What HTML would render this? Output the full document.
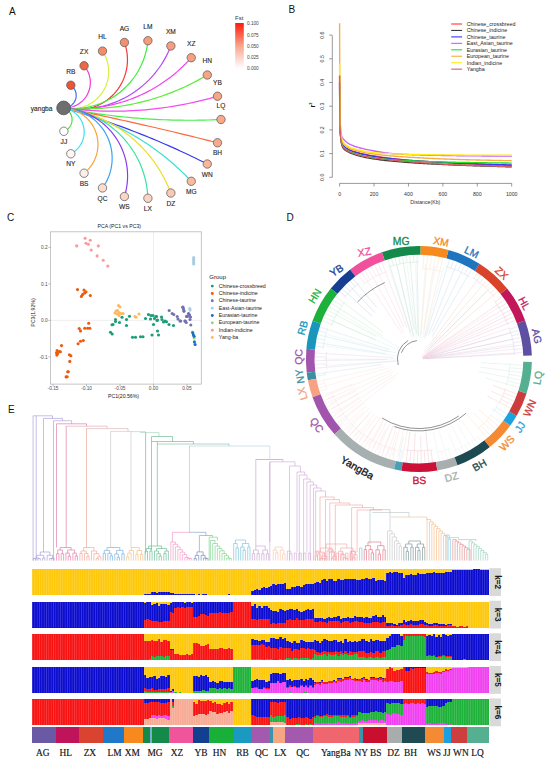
<!DOCTYPE html>
<html><head><meta charset="utf-8"><style>
*{margin:0;padding:0}
html,body{width:550px;height:763px;background:#fff;overflow:hidden}
svg{display:block}
text{font-family:"Liberation Sans",sans-serif;fill:#222}
.pl{font-size:10px;fill:#111}
.al{font-size:6.6px}
.al text{fill:#262626;stroke:#262626;stroke-width:0.12px}
.fsth{font-size:6px;fill:#333}
.fstl text{font-size:4.7px;fill:#444}
.bt text{font-size:5.2px;fill:#333}
.r2{font-size:7px;font-weight:bold;fill:#111}
.bl text{font-size:5.3px;fill:#222}
.ct{font-size:5.2px;fill:#222}
.ctk text{font-size:4.8px;fill:#4d4d4d}
.cax{font-size:5.2px;fill:#222}
.cgh{font-size:6px;fill:#222}
.cgl{font-size:5.25px;fill:#222}
.dl text{font-size:10.4px;stroke-width:0.3px}
.ks{font-size:8.2px;font-weight:bold;fill:#1a1a1a}
.gl text{font-family:"Liberation Serif",serif;font-size:9.4px;fill:#111;stroke:#111;stroke-width:0.15px}
</style></head><body>
<svg width="550" height="763" viewBox="0 0 550 763">
<text x="9" y="15.3" class="pl">A</text>
<g fill="none" stroke-width="1.2"><path d="M63.6 107.9 L64.48 107.88 L65.36 107.8 L66.23 107.65 L67.08 107.45 L67.92 107.18 L68.74 106.85 L69.53 106.47 L70.3 106.04 L71.03 105.55 L71.72 105.01 L72.38 104.42 L72.99 103.78 L73.56 103.11 L74.07 102.4 L74.54 101.65 L74.95 100.87 L75.3 100.06 L75.6 99.23 L75.84 98.39 L76.01 97.52 L76.13 96.65 L76.18 95.77 L76.17 94.89 L76.1 94.01 L75.97 93.14 L75.78 92.28 L75.52 91.44 L75.21 90.62 L74.84 89.82 L74.41 89.05 L73.93 88.31 L73.4 87.61 L72.82 86.95 L72.2 86.33 L71.53 85.75 L70.82 85.22" stroke="#3d6cf2"/><path d="M63.6 107.9 L65.25 107.93 L66.9 107.85 L68.55 107.67 L70.17 107.38 L71.78 106.99 L73.36 106.49 L74.9 105.89 L76.39 105.19 L77.84 104.4 L79.24 103.51 L80.57 102.54 L81.84 101.48 L83.04 100.34 L84.16 99.12 L85.2 97.84 L86.15 96.49 L87.02 95.08 L87.79 93.61 L88.46 92.1 L89.04 90.56 L89.51 88.97 L89.88 87.36 L90.14 85.73 L90.3 84.08 L90.35 82.43 L90.29 80.78 L90.13 79.13 L89.86 77.5 L89.48 75.89 L89 74.31 L88.42 72.76 L87.74 71.26 L86.96 69.8 L86.09 68.39 L85.13 67.05 L84.09 65.77" stroke="#f23cd0"/><path d="M63.6 107.9 L66.01 108.35 L68.44 108.63 L70.88 108.76 L73.33 108.72 L75.77 108.53 L78.19 108.17 L80.58 107.66 L82.94 106.98 L85.24 106.16 L87.49 105.18 L89.66 104.06 L91.76 102.8 L93.77 101.4 L95.68 99.87 L97.49 98.22 L99.19 96.46 L100.76 94.58 L102.21 92.61 L103.53 90.55 L104.7 88.4 L105.74 86.18 L106.62 83.9 L107.35 81.56 L107.93 79.18 L108.35 76.77 L108.61 74.34 L108.7 71.89 L108.64 69.44 L108.41 67.01 L108.03 64.59 L107.49 62.2 L106.79 59.86 L105.93 57.56 L104.93 55.33 L103.79 53.17 L102.5 51.08" stroke="#d8f03a"/><path d="M63.6 107.9 L66.57 108.65 L69.58 109.22 L72.61 109.6 L75.67 109.79 L78.73 109.8 L81.79 109.62 L84.83 109.26 L87.84 108.71 L90.81 107.98 L93.73 107.07 L96.6 105.98 L99.38 104.71 L102.09 103.29 L104.71 101.69 L107.22 99.94 L109.62 98.05 L111.9 96 L114.05 93.83 L116.07 91.52 L117.94 89.1 L119.66 86.56 L121.22 83.93 L122.62 81.21 L123.85 78.4 L124.9 75.53 L125.78 72.6 L126.48 69.61 L126.99 66.6 L127.32 63.55 L127.46 60.49 L127.42 57.43 L127.19 54.38 L126.77 51.35 L126.17 48.35 L125.38 45.39 L124.42 42.48" stroke="#f23a3a"/><path d="M63.6 107.9 L66.92 108.26 L70.26 108.47 L73.6 108.53 L76.94 108.44 L80.27 108.21 L83.59 107.82 L86.89 107.29 L90.16 106.61 L93.4 105.79 L96.6 104.82 L99.75 103.71 L102.85 102.46 L105.89 101.08 L108.87 99.56 L111.77 97.91 L114.6 96.13 L117.35 94.23 L120.01 92.2 L122.58 90.06 L125.04 87.81 L127.41 85.45 L129.67 82.99 L131.81 80.42 L133.84 77.77 L135.75 75.03 L137.54 72.2 L139.19 69.3 L140.72 66.33 L142.11 63.29 L143.37 60.19 L144.48 57.04 L145.46 53.84 L146.29 50.61 L146.97 47.34 L147.51 44.04 L147.9 40.72" stroke="#3ced3c"/><path d="M63.6 107.9 L67.29 108.41 L70.99 108.78 L74.7 109.02 L78.42 109.11 L82.14 109.06 L85.86 108.87 L89.57 108.54 L93.26 108.07 L96.93 107.46 L100.57 106.71 L104.19 105.83 L107.77 104.81 L111.3 103.65 L114.79 102.36 L118.23 100.95 L121.62 99.4 L124.94 97.72 L128.2 95.92 L131.38 94 L134.5 91.96 L137.53 89.8 L140.48 87.53 L143.34 85.15 L146.11 82.67 L148.78 80.08 L151.35 77.39 L153.82 74.61 L156.18 71.73 L158.44 68.77 L160.57 65.72 L162.6 62.6 L164.5 59.4 L166.28 56.13 L167.93 52.8 L169.46 49.41 L170.86 45.96" stroke="#b04cf2"/><path d="M63.6 107.9 L67.54 108.23 L71.49 108.46 L75.44 108.58 L79.4 108.6 L83.35 108.52 L87.3 108.33 L91.24 108.04 L95.18 107.65 L99.1 107.15 L103.01 106.56 L106.9 105.86 L110.78 105.05 L114.63 104.15 L118.45 103.15 L122.25 102.04 L126.02 100.84 L129.75 99.54 L133.45 98.14 L137.11 96.65 L140.73 95.06 L144.31 93.37 L147.84 91.6 L151.33 89.73 L154.76 87.77 L158.15 85.72 L161.47 83.58 L164.74 81.36 L167.95 79.05 L171.1 76.66 L174.19 74.19 L177.21 71.63 L180.16 69 L183.05 66.3 L185.86 63.51 L188.59 60.66 L191.26 57.73" stroke="#f244f0"/><path d="M63.6 107.9 L67.75 108.23 L71.9 108.5 L76.06 108.68 L80.22 108.8 L84.38 108.84 L88.55 108.82 L92.71 108.71 L96.87 108.54 L101.02 108.29 L105.17 107.97 L109.31 107.58 L113.45 107.12 L117.58 106.58 L121.7 105.97 L125.8 105.29 L129.9 104.54 L133.98 103.72 L138.04 102.83 L142.09 101.86 L146.12 100.83 L150.14 99.72 L154.13 98.55 L158.1 97.3 L162.05 95.99 L165.98 94.61 L169.88 93.15 L173.75 91.64 L177.6 90.05 L181.42 88.4 L185.21 86.68 L188.97 84.89 L192.7 83.04 L196.39 81.13 L200.06 79.15 L203.68 77.1 L207.27 75" stroke="#5ced3a"/><path d="M63.6 107.9 L67.88 108.45 L72.17 108.95 L76.47 109.4 L80.77 109.8 L85.07 110.15 L89.38 110.45 L93.69 110.7 L98 110.9 L102.32 111.05 L106.64 111.15 L110.96 111.2 L115.27 111.2 L119.59 111.15 L123.91 111.05 L128.23 110.9 L132.54 110.7 L136.85 110.45 L141.16 110.14 L145.46 109.79 L149.76 109.39 L154.06 108.94 L158.35 108.44 L162.63 107.88 L166.91 107.28 L171.18 106.63 L175.44 105.93 L179.69 105.18 L183.93 104.38 L188.17 103.53 L192.39 102.63 L196.6 101.68 L200.81 100.69 L205 99.64 L209.17 98.55 L213.34 97.41 L217.49 96.21" stroke="#f24cf0"/><path d="M63.6 107.9 L67.91 108.74 L72.23 109.55 L76.56 110.33 L80.89 111.08 L85.22 111.81 L89.56 112.5 L93.91 113.16 L98.26 113.8 L102.61 114.4 L106.97 114.98 L111.33 115.52 L115.69 116.04 L120.06 116.53 L124.43 116.98 L128.81 117.41 L133.18 117.81 L137.56 118.18 L141.95 118.51 L146.33 118.82 L150.72 119.1 L155.1 119.35 L159.49 119.57 L163.88 119.76 L168.28 119.92 L172.67 120.05 L177.06 120.14 L181.46 120.21 L185.85 120.25 L190.25 120.26 L194.64 120.24 L199.04 120.2 L203.43 120.12 L207.82 120.01 L212.22 119.87 L216.61 119.7 L221 119.5" stroke="#4cee4c"/><path d="M63.6 107.9 L67.9 108.76 L72.2 109.63 L76.49 110.5 L80.79 111.38 L85.08 112.26 L89.37 113.15 L93.66 114.05 L97.95 114.96 L102.24 115.87 L106.53 116.78 L110.81 117.7 L115.1 118.63 L119.38 119.57 L123.66 120.51 L127.94 121.46 L132.22 122.41 L136.5 123.37 L140.77 124.34 L145.05 125.31 L149.32 126.29 L153.59 127.27 L157.86 128.26 L162.13 129.26 L166.4 130.26 L170.66 131.27 L174.93 132.29 L179.19 133.31 L183.45 134.34 L187.71 135.37 L191.97 136.41 L196.23 137.46 L200.48 138.51 L204.74 139.57 L208.99 140.64 L213.24 141.71 L217.49 142.79" stroke="#fa6a3a"/><path d="M63.6 107.9 L67.73 109.08 L71.84 110.29 L75.96 111.51 L80.06 112.76 L84.16 114.03 L88.25 115.32 L92.34 116.63 L96.42 117.97 L100.49 119.32 L104.55 120.7 L108.61 122.1 L112.66 123.52 L116.7 124.96 L120.73 126.43 L124.76 127.91 L128.77 129.42 L132.78 130.95 L136.78 132.5 L140.78 134.07 L144.76 135.66 L148.74 137.28 L152.7 138.91 L156.66 140.57 L160.61 142.25 L164.55 143.95 L168.48 145.67 L172.41 147.41 L176.32 149.17 L180.22 150.95 L184.12 152.75 L188 154.58 L191.88 156.42 L195.74 158.28 L199.59 160.17 L203.44 162.08 L207.27 164" stroke="#3a3af2"/><path d="M63.6 107.9 L67.64 108.86 L71.66 109.88 L75.66 110.98 L79.65 112.13 L83.62 113.36 L87.56 114.64 L91.49 116 L95.39 117.41 L99.26 118.9 L103.12 120.44 L106.94 122.05 L110.74 123.72 L114.51 125.46 L118.25 127.25 L121.97 129.11 L125.65 131.03 L129.29 133.01 L132.91 135.04 L136.49 137.14 L140.04 139.3 L143.55 141.51 L147.02 143.78 L150.46 146.11 L153.85 148.5 L157.21 150.94 L160.53 153.44 L163.8 155.99 L167.03 158.59 L170.22 161.25 L173.36 163.96 L176.46 166.72 L179.52 169.53 L182.52 172.39 L185.48 175.3 L188.39 178.26 L191.26 181.27" stroke="#3ae0d4"/><path d="M63.6 107.9 L67.55 108.48 L71.49 109.17 L75.4 109.99 L79.29 110.92 L83.14 111.96 L86.97 113.13 L90.75 114.4 L94.5 115.79 L98.2 117.3 L101.86 118.91 L105.46 120.63 L109.02 122.46 L112.51 124.39 L115.95 126.43 L119.32 128.58 L122.63 130.82 L125.87 133.16 L129.04 135.6 L132.13 138.13 L135.14 140.75 L138.08 143.46 L140.93 146.26 L143.7 149.15 L146.37 152.11 L148.96 155.16 L151.46 158.28 L153.86 161.47 L156.16 164.74 L158.36 168.07 L160.47 171.47 L162.47 174.93 L164.36 178.45 L166.15 182.02 L167.83 185.64 L169.4 189.32 L170.86 193.04" stroke="#f0dc2c"/><path d="M63.6 107.9 L67.32 108.36 L71.01 108.98 L74.68 109.74 L78.31 110.64 L81.9 111.69 L85.46 112.88 L88.96 114.21 L92.4 115.67 L95.78 117.28 L99.1 119.01 L102.35 120.88 L105.52 122.87 L108.6 124.99 L111.6 127.23 L114.51 129.59 L117.33 132.06 L120.04 134.64 L122.65 137.33 L125.15 140.12 L127.53 143 L129.8 145.98 L131.95 149.05 L133.98 152.2 L135.88 155.42 L137.65 158.72 L139.28 162.09 L140.79 165.52 L142.15 169.01 L143.37 172.55 L144.46 176.13 L145.4 179.76 L146.19 183.41 L146.84 187.1 L147.34 190.81 L147.7 194.54 L147.9 198.28" stroke="#3ae4a4"/><path d="M63.6 107.9 L67.03 108.2 L70.43 108.67 L73.81 109.31 L77.15 110.12 L80.45 111.1 L83.69 112.24 L86.87 113.55 L89.98 115.01 L93.01 116.63 L95.96 118.4 L98.82 120.32 L101.57 122.38 L104.22 124.57 L106.75 126.9 L109.16 129.35 L111.45 131.91 L113.6 134.59 L115.62 137.38 L117.49 140.26 L119.22 143.23 L120.79 146.29 L122.21 149.42 L123.47 152.62 L124.56 155.88 L125.49 159.19 L126.26 162.55 L126.85 165.93 L127.27 169.35 L127.51 172.77 L127.59 176.21 L127.49 179.65 L127.22 183.08 L126.77 186.49 L126.16 189.87 L125.37 193.22 L124.42 196.52" stroke="#8c3af2"/><path d="M63.6 107.9 L66.62 108.1 L69.63 108.48 L72.6 109.04 L75.54 109.78 L78.43 110.7 L81.25 111.78 L84.01 113.04 L86.69 114.45 L89.27 116.03 L91.76 117.76 L94.14 119.63 L96.4 121.65 L98.53 123.79 L100.54 126.06 L102.4 128.45 L104.12 130.95 L105.68 133.54 L107.09 136.22 L108.33 138.98 L109.4 141.82 L110.3 144.71 L111.03 147.65 L111.58 150.62 L111.95 153.63 L112.13 156.65 L112.14 159.68 L111.96 162.7 L111.6 165.71 L111.06 168.69 L110.35 171.63 L109.46 174.53 L108.39 177.36 L107.16 180.13 L105.76 182.82 L104.21 185.42 L102.5 187.92" stroke="#3aa4f2"/><path d="M63.6 107.9 L66.04 108.14 L68.46 108.53 L70.85 109.09 L73.2 109.81 L75.49 110.68 L77.72 111.71 L79.87 112.88 L81.95 114.19 L83.93 115.64 L85.8 117.21 L87.57 118.91 L89.23 120.73 L90.75 122.65 L92.15 124.66 L93.4 126.77 L94.52 128.96 L95.48 131.21 L96.29 133.53 L96.95 135.89 L97.45 138.29 L97.78 140.72 L97.95 143.17 L97.96 145.62 L97.8 148.07 L97.48 150.5 L97 152.91 L96.36 155.27 L95.56 157.59 L94.61 159.85 L93.5 162.05 L92.26 164.16 L90.88 166.18 L89.36 168.11 L87.72 169.94 L85.96 171.65 L84.09 173.23" stroke="#f8a43a"/><path d="M63.6 107.9 L65.27 108.23 L66.92 108.67 L68.53 109.23 L70.1 109.89 L71.61 110.67 L73.07 111.55 L74.47 112.53 L75.79 113.6 L77.04 114.76 L78.2 116.01 L79.27 117.34 L80.25 118.73 L81.12 120.19 L81.9 121.71 L82.56 123.28 L83.11 124.89 L83.55 126.54 L83.88 128.21 L84.08 129.91 L84.17 131.61 L84.14 133.31 L83.99 135.01 L83.72 136.69 L83.34 138.35 L82.84 139.98 L82.22 141.57 L81.5 143.12 L80.67 144.6 L79.75 146.03 L78.72 147.39 L77.6 148.68 L76.39 149.88 L75.11 151 L73.74 152.02 L72.31 152.95 L70.82 153.78" stroke="#3ae0f0"/><path d="M63.6 107.9 L64.4 108.19 L65.17 108.54 L65.92 108.95 L66.64 109.4 L67.33 109.9 L67.98 110.45 L68.6 111.04 L69.17 111.67 L69.69 112.34 L70.17 113.04 L70.6 113.77 L70.98 114.54 L71.3 115.32 L71.57 116.13 L71.78 116.95 L71.94 117.79 L72.04 118.64 L72.08 119.49 L72.06 120.34 L71.98 121.18 L71.84 122.02 L71.65 122.85 L71.4 123.67 L71.1 124.46 L70.74 125.23 L70.33 125.98 L69.87 126.69 L69.36 127.37 L68.8 128.02 L68.2 128.62 L67.56 129.18 L66.89 129.7 L66.18 130.17 L65.44 130.59 L64.67 130.96 L63.88 131.27" stroke="#4ce03a"/></g>
<g><circle cx="63.6" cy="107.9" r="6.9" fill="#6e6e6e" stroke="#4a4a4a" stroke-width="0.7"/><circle cx="70.82" cy="85.22" r="4.2" fill="#ec5433" stroke="#555" stroke-width="0.7"/><circle cx="84.09" cy="65.77" r="4.2" fill="#ee6646" stroke="#555" stroke-width="0.7"/><circle cx="102.5" cy="51.08" r="4.2" fill="#f48c6a" stroke="#555" stroke-width="0.7"/><circle cx="124.42" cy="42.48" r="4.2" fill="#f48e6c" stroke="#555" stroke-width="0.7"/><circle cx="147.9" cy="40.72" r="4.2" fill="#f59c7c" stroke="#555" stroke-width="0.7"/><circle cx="170.86" cy="45.96" r="4.2" fill="#f59f80" stroke="#555" stroke-width="0.7"/><circle cx="191.26" cy="57.73" r="4.2" fill="#f5a080" stroke="#555" stroke-width="0.7"/><circle cx="207.27" cy="75" r="4.2" fill="#f6a484" stroke="#555" stroke-width="0.7"/><circle cx="217.49" cy="96.21" r="4.2" fill="#f6a585" stroke="#555" stroke-width="0.7"/><circle cx="221" cy="119.5" r="4.2" fill="#f7a989" stroke="#555" stroke-width="0.7"/><circle cx="217.49" cy="142.79" r="4.2" fill="#f7ab8c" stroke="#555" stroke-width="0.7"/><circle cx="207.27" cy="164" r="4.2" fill="#f7b59a" stroke="#555" stroke-width="0.7"/><circle cx="191.26" cy="181.27" r="4.2" fill="#f8bba2" stroke="#555" stroke-width="0.7"/><circle cx="170.86" cy="193.04" r="4.2" fill="#f9c9b5" stroke="#555" stroke-width="0.7"/><circle cx="147.9" cy="198.28" r="4.2" fill="#fad3c4" stroke="#555" stroke-width="0.7"/><circle cx="124.42" cy="196.52" r="4.2" fill="#fad4c6" stroke="#555" stroke-width="0.7"/><circle cx="102.5" cy="187.92" r="4.2" fill="#fbdccf" stroke="#555" stroke-width="0.7"/><circle cx="84.09" cy="173.23" r="4.2" fill="#fdeee8" stroke="#555" stroke-width="0.7"/><circle cx="70.82" cy="153.78" r="4.2" fill="#fff6f2" stroke="#555" stroke-width="0.7"/><circle cx="63.88" cy="131.27" r="4.2" fill="#ffffff" stroke="#555" stroke-width="0.7"/></g>
<g class="al"><text x="52.4" y="110.9" text-anchor="end">yangba</text><text x="70.82" y="73.52" text-anchor="middle">RB</text><text x="84.09" y="54.07" text-anchor="middle">ZX</text><text x="102.5" y="39.38" text-anchor="middle">HL</text><text x="124.42" y="30.78" text-anchor="middle">AG</text><text x="147.9" y="29.02" text-anchor="middle">LM</text><text x="170.86" y="34.26" text-anchor="middle">XM</text><text x="191.26" y="46.03" text-anchor="middle">XZ</text><text x="207.27" y="63.3" text-anchor="middle">HN</text><text x="217.49" y="84.51" text-anchor="middle">YB</text><text x="221" y="107.8" text-anchor="middle">LQ</text><text x="217.49" y="155.39" text-anchor="middle">BH</text><text x="207.27" y="176.6" text-anchor="middle">WN</text><text x="191.26" y="193.87" text-anchor="middle">MG</text><text x="170.86" y="205.64" text-anchor="middle">DZ</text><text x="147.9" y="210.88" text-anchor="middle">LX</text><text x="124.42" y="209.12" text-anchor="middle">WS</text><text x="102.5" y="200.52" text-anchor="middle">QC</text><text x="84.09" y="185.83" text-anchor="middle">BS</text><text x="70.82" y="166.38" text-anchor="middle">NY</text><text x="63.88" y="143.87" text-anchor="middle">JJ</text></g>
<defs><linearGradient id="fstg" x1="0" y1="1" x2="0" y2="0"><stop offset="0" stop-color="#ffffff"/><stop offset="0.5" stop-color="#f8a58c"/><stop offset="1" stop-color="#ff1a0a"/></linearGradient></defs>
<text x="235" y="19.8" class="fsth">Fst</text>
<rect x="235.2" y="23" width="8.6" height="45.6" fill="url(#fstg)"/>
<g class="fstl"><text x="247" y="25.3">0.100</text><text x="247" y="36.5">0.075</text><text x="247" y="47.7">0.050</text><text x="247" y="58.9">0.025</text><text x="247" y="70.1">0.000</text></g>
<text x="288.6" y="13.4" class="pl">B</text>
<g stroke="#555" stroke-width="0.6" fill="none"><path d="M332.3 35.4 V177.3" /><path d="M332.3 177.3 H329.2"/><path d="M332.3 153.6 H329.2"/><path d="M332.3 129.9 H329.2"/><path d="M332.3 106.2 H329.2"/><path d="M332.3 82.5 H329.2"/><path d="M332.3 58.8 H329.2"/><path d="M332.3 35.1 H329.2"/><path d="M339.6 183.4 H511.7"/><path d="M339.6 183.4 V186.5"/><path d="M374.02 183.4 V186.5"/><path d="M408.44 183.4 V186.5"/><path d="M442.86 183.4 V186.5"/><path d="M477.28 183.4 V186.5"/><path d="M511.7 183.4 V186.5"/></g>
<g class="bt"><text transform="translate(324.1 177.3) rotate(-90)" text-anchor="middle">0.0</text><text transform="translate(324.1 153.6) rotate(-90)" text-anchor="middle">0.1</text><text transform="translate(324.1 129.9) rotate(-90)" text-anchor="middle">0.2</text><text transform="translate(324.1 106.2) rotate(-90)" text-anchor="middle">0.3</text><text transform="translate(324.1 82.5) rotate(-90)" text-anchor="middle">0.4</text><text transform="translate(324.1 58.8) rotate(-90)" text-anchor="middle">0.5</text><text transform="translate(324.1 35.1) rotate(-90)" text-anchor="middle">0.6</text><text x="339.6" y="195.6" text-anchor="middle">0</text><text x="374.02" y="195.6" text-anchor="middle">200</text><text x="408.44" y="195.6" text-anchor="middle">400</text><text x="442.86" y="195.6" text-anchor="middle">600</text><text x="477.28" y="195.6" text-anchor="middle">800</text><text x="511.7" y="195.6" text-anchor="middle">1000</text><text x="425.3" y="204.2" text-anchor="middle">Distance(Kb)</text></g>
<text transform="translate(314.9 107.6) rotate(-90)" class="r2">r<tspan dy="-2.6" font-size="4">2</tspan></text>
<g fill="none" stroke-width="1.35" stroke-linejoin="round"><path d="M339.6 75.39 L339.64 84.49 L339.69 92.26 L339.73 98.79 L339.77 104.23 L339.82 108.75 L339.86 112.48 L339.9 115.55 L339.94 118.05 L339.99 120.17 L340.03 122.08 L340.07 123.79 L340.12 125.34 L340.15 126.48 L340.27 129.76 L340.39 132.29 L340.51 134.24 L340.62 135.73 L340.74 136.92 L340.86 137.94 L340.98 138.82 L341.1 139.6 L341.22 140.28 L341.33 140.89 L341.45 141.43 L341.57 141.92 L341.69 142.36 L341.81 142.77 L341.92 143.13 L342.04 143.47 L342.16 143.78 L342.28 144.07 L342.4 144.33 L342.52 144.57 L342.63 144.8 L342.75 145.01 L342.87 145.21 L342.99 145.4 L343.11 145.57 L343.23 145.73 L343.34 145.89 L343.46 146.03 L343.58 146.17 L343.7 146.3 L343.82 146.43 L343.94 146.55 L344.05 146.66 L344.17 146.77 L344.29 146.88 L344.41 146.98 L344.53 147.08 L344.64 147.18 L344.76 147.27 L344.94 147.4 L346.34 148.32 L347.74 149.09 L349.14 149.79 L350.54 150.38 L351.94 150.91 L353.34 151.38 L354.74 151.82 L356.15 152.23 L357.55 152.62 L358.95 152.98 L360.35 153.32 L361.75 153.65 L363.15 153.95 L364.55 154.25 L365.96 154.53 L367.36 154.8 L368.76 155.06 L370.16 155.32 L371.56 155.56 L372.96 155.8 L374.36 156.03 L375.77 156.25 L377.17 156.47 L378.57 156.69 L379.97 156.9 L381.37 157.11 L382.77 157.31 L384.17 157.51 L385.58 157.71 L386.98 157.89 L388.38 158.08 L389.78 158.26 L391.18 158.43 L392.58 158.6 L393.98 158.77 L395.38 158.93 L396.79 159.09 L398.19 159.24 L399.59 159.39 L400.99 159.53 L402.39 159.67 L403.79 159.81 L405.19 159.94 L406.6 160.07 L408 160.2 L409.4 160.32 L410.8 160.44 L412.2 160.56 L413.6 160.67 L415 160.79 L416.41 160.9 L417.81 161.01 L419.21 161.12 L420.61 161.22 L422.01 161.33 L423.41 161.43 L424.81 161.53 L426.22 161.63 L427.62 161.72 L429.02 161.82 L430.42 161.91 L431.82 162 L433.22 162.09 L434.62 162.18 L436.03 162.27 L437.43 162.35 L438.83 162.44 L440.23 162.52 L441.63 162.6 L443.03 162.68 L444.43 162.76 L445.83 162.84 L447.24 162.91 L448.64 162.99 L450.04 163.06 L451.44 163.13 L452.84 163.2 L454.24 163.27 L455.64 163.34 L457.05 163.41 L458.45 163.48 L459.85 163.54 L461.25 163.61 L462.65 163.67 L464.05 163.73 L465.45 163.8 L466.86 163.86 L468.26 163.92 L469.66 163.97 L471.06 164.03 L472.46 164.09 L473.86 164.14 L475.26 164.2 L476.67 164.25 L478.07 164.31 L479.47 164.36 L480.87 164.41 L482.27 164.47 L483.67 164.52 L485.07 164.57 L486.48 164.62 L487.88 164.67 L489.28 164.72 L490.68 164.77 L492.08 164.81 L493.48 164.86 L494.88 164.91 L496.28 164.96 L497.69 165 L499.09 165.05 L500.49 165.09 L501.89 165.14 L503.29 165.19 L504.69 165.23 L506.09 165.27 L507.5 165.32 L508.9 165.36 L510.3 165.41 L511.7 165.45" stroke="#ff3535"/><path d="M339.6 82.5 L339.64 90.56 L339.69 97.42 L339.73 103.19 L339.77 108.01 L339.82 112.03 L339.86 115.37 L339.9 118.14 L339.94 120.42 L339.99 122.36 L340.03 124.1 L340.07 125.66 L340.12 127.07 L340.15 128.1 L340.27 131.12 L340.39 133.49 L340.51 135.38 L340.62 136.91 L340.74 138.19 L340.86 139.31 L340.98 140.3 L341.1 141.18 L341.22 141.97 L341.33 142.67 L341.45 143.31 L341.57 143.88 L341.69 144.4 L341.81 144.88 L341.92 145.31 L342.04 145.7 L342.16 146.05 L342.28 146.38 L342.4 146.67 L342.52 146.94 L342.63 147.19 L342.75 147.42 L342.87 147.64 L342.99 147.84 L343.11 148.03 L343.23 148.21 L343.34 148.38 L343.46 148.54 L343.58 148.7 L343.7 148.84 L343.82 148.98 L343.94 149.11 L344.05 149.24 L344.17 149.36 L344.29 149.48 L344.41 149.59 L344.53 149.69 L344.64 149.8 L344.76 149.9 L344.94 150.04 L346.34 150.99 L347.74 151.76 L349.14 152.42 L350.54 153.04 L351.94 153.63 L353.34 154.16 L354.74 154.66 L356.15 155.11 L357.55 155.53 L358.95 155.93 L360.35 156.29 L361.75 156.63 L363.15 156.95 L364.55 157.26 L365.96 157.54 L367.36 157.81 L368.76 158.07 L370.16 158.31 L371.56 158.55 L372.96 158.77 L374.36 158.99 L375.77 159.2 L377.17 159.4 L378.57 159.59 L379.97 159.78 L381.37 159.96 L382.77 160.13 L384.17 160.3 L385.58 160.46 L386.98 160.61 L388.38 160.77 L389.78 160.91 L391.18 161.05 L392.58 161.19 L393.98 161.33 L395.38 161.45 L396.79 161.58 L398.19 161.7 L399.59 161.82 L400.99 161.94 L402.39 162.05 L403.79 162.16 L405.19 162.27 L406.6 162.38 L408 162.48 L409.4 162.58 L410.8 162.68 L412.2 162.78 L413.6 162.88 L415 162.97 L416.41 163.06 L417.81 163.15 L419.21 163.24 L420.61 163.32 L422.01 163.41 L423.41 163.49 L424.81 163.57 L426.22 163.65 L427.62 163.73 L429.02 163.81 L430.42 163.88 L431.82 163.96 L433.22 164.03 L434.62 164.1 L436.03 164.17 L437.43 164.24 L438.83 164.31 L440.23 164.38 L441.63 164.44 L443.03 164.51 L444.43 164.57 L445.83 164.64 L447.24 164.7 L448.64 164.76 L450.04 164.82 L451.44 164.88 L452.84 164.94 L454.24 165 L455.64 165.05 L457.05 165.11 L458.45 165.17 L459.85 165.22 L461.25 165.27 L462.65 165.33 L464.05 165.38 L465.45 165.43 L466.86 165.48 L468.26 165.53 L469.66 165.58 L471.06 165.63 L472.46 165.68 L473.86 165.73 L475.26 165.78 L476.67 165.82 L478.07 165.87 L479.47 165.92 L480.87 165.96 L482.27 166.01 L483.67 166.05 L485.07 166.1 L486.48 166.14 L487.88 166.19 L489.28 166.23 L490.68 166.27 L492.08 166.31 L493.48 166.36 L494.88 166.4 L496.28 166.44 L497.69 166.48 L499.09 166.52 L500.49 166.56 L501.89 166.6 L503.29 166.64 L504.69 166.68 L506.09 166.72 L507.5 166.76 L508.9 166.8 L510.3 166.83 L511.7 166.87" stroke="#3a3a3a"/><path d="M339.6 87.24 L339.64 93.68 L339.69 99.1 L339.73 103.66 L339.77 107.51 L339.82 110.79 L339.86 113.59 L339.9 115.99 L339.94 118.05 L339.99 119.88 L340.03 121.55 L340.07 123.09 L340.12 124.5 L340.15 125.54 L340.27 128.64 L340.39 131.09 L340.51 133.02 L340.62 134.54 L340.74 135.77 L340.86 136.85 L340.98 137.79 L341.1 138.62 L341.22 139.36 L341.33 140.02 L341.45 140.62 L341.57 141.16 L341.69 141.65 L341.81 142.1 L341.92 142.51 L342.04 142.88 L342.16 143.22 L342.28 143.54 L342.4 143.83 L342.52 144.1 L342.63 144.35 L342.75 144.58 L342.87 144.8 L342.99 145 L343.11 145.19 L343.23 145.37 L343.34 145.54 L343.46 145.7 L343.58 145.85 L343.7 146 L343.82 146.13 L343.94 146.27 L344.05 146.39 L344.17 146.52 L344.29 146.63 L344.41 146.75 L344.53 146.86 L344.64 146.96 L344.76 147.07 L344.94 147.21 L346.34 148.22 L347.74 149.07 L349.14 149.83 L350.54 150.47 L351.94 151.03 L353.34 151.54 L354.74 152.01 L356.15 152.45 L357.55 152.87 L358.95 153.26 L360.35 153.64 L361.75 154 L363.15 154.33 L364.55 154.66 L365.96 154.96 L367.36 155.25 L368.76 155.53 L370.16 155.79 L371.56 156.04 L372.96 156.27 L374.36 156.5 L375.77 156.72 L377.17 156.92 L378.57 157.13 L379.97 157.32 L381.37 157.51 L382.77 157.69 L384.17 157.87 L385.58 158.04 L386.98 158.21 L388.38 158.37 L389.78 158.53 L391.18 158.68 L392.58 158.82 L393.98 158.97 L395.38 159.11 L396.79 159.24 L398.19 159.37 L399.59 159.5 L400.99 159.63 L402.39 159.75 L403.79 159.87 L405.19 159.98 L406.6 160.09 L408 160.2 L409.4 160.31 L410.8 160.41 L412.2 160.51 L413.6 160.61 L415 160.71 L416.41 160.8 L417.81 160.9 L419.21 160.99 L420.61 161.07 L422.01 161.16 L423.41 161.25 L424.81 161.33 L426.22 161.41 L427.62 161.49 L429.02 161.57 L430.42 161.65 L431.82 161.73 L433.22 161.8 L434.62 161.87 L436.03 161.95 L437.43 162.02 L438.83 162.09 L440.23 162.16 L441.63 162.23 L443.03 162.3 L444.43 162.37 L445.83 162.44 L447.24 162.5 L448.64 162.57 L450.04 162.63 L451.44 162.7 L452.84 162.76 L454.24 162.82 L455.64 162.89 L457.05 162.95 L458.45 163.01 L459.85 163.07 L461.25 163.13 L462.65 163.19 L464.05 163.25 L465.45 163.31 L466.86 163.37 L468.26 163.42 L469.66 163.48 L471.06 163.54 L472.46 163.59 L473.86 163.65 L475.26 163.71 L476.67 163.76 L478.07 163.81 L479.47 163.87 L480.87 163.92 L482.27 163.97 L483.67 164.03 L485.07 164.08 L486.48 164.13 L487.88 164.18 L489.28 164.23 L490.68 164.28 L492.08 164.33 L493.48 164.38 L494.88 164.43 L496.28 164.48 L497.69 164.52 L499.09 164.57 L500.49 164.62 L501.89 164.66 L503.29 164.71 L504.69 164.75 L506.09 164.8 L507.5 164.84 L508.9 164.89 L510.3 164.93 L511.7 164.98" stroke="#3535ff"/><path d="M339.6 82.5 L339.64 88.4 L339.69 93.32 L339.73 97.47 L339.77 101 L339.82 104.03 L339.86 106.65 L339.9 108.94 L339.94 110.94 L339.99 112.76 L340.03 114.49 L340.07 116.11 L340.12 117.63 L340.15 118.77 L340.27 122.25 L340.39 125.1 L340.51 127.41 L340.62 129.27 L340.74 130.75 L340.86 131.89 L340.98 132.76 L341.1 133.44 L341.22 134.04 L341.33 134.56 L341.45 135.03 L341.57 135.45 L341.69 135.82 L341.81 136.16 L341.92 136.48 L342.04 136.76 L342.16 137.03 L342.28 137.28 L342.4 137.51 L342.52 137.72 L342.63 137.93 L342.75 138.12 L342.87 138.31 L342.99 138.48 L343.11 138.65 L343.23 138.81 L343.34 138.97 L343.46 139.12 L343.58 139.26 L343.7 139.4 L343.82 139.54 L343.94 139.68 L344.05 139.81 L344.17 139.94 L344.29 140.06 L344.41 140.18 L344.53 140.3 L344.64 140.42 L344.76 140.54 L344.94 140.71 L346.34 141.98 L347.74 143 L349.14 143.84 L350.54 144.55 L351.94 145.18 L353.34 145.75 L354.74 146.27 L356.15 146.75 L357.55 147.2 L358.95 147.61 L360.35 148 L361.75 148.37 L363.15 148.71 L364.55 149.04 L365.96 149.35 L367.36 149.65 L368.76 149.93 L370.16 150.21 L371.56 150.47 L372.96 150.72 L374.36 150.97 L375.77 151.23 L377.17 151.48 L378.57 151.73 L379.97 151.98 L381.37 152.21 L382.77 152.44 L384.17 152.65 L385.58 152.85 L386.98 153.04 L388.38 153.22 L389.78 153.38 L391.18 153.52 L392.58 153.65 L393.98 153.76 L395.38 153.86 L396.79 153.95 L398.19 154.04 L399.59 154.12 L400.99 154.2 L402.39 154.28 L403.79 154.35 L405.19 154.41 L406.6 154.48 L408 154.54 L409.4 154.6 L410.8 154.66 L412.2 154.71 L413.6 154.76 L415 154.81 L416.41 154.86 L417.81 154.9 L419.21 154.95 L420.61 154.99 L422.01 155.03 L423.41 155.07 L424.81 155.11 L426.22 155.14 L427.62 155.18 L429.02 155.21 L430.42 155.25 L431.82 155.28 L433.22 155.31 L434.62 155.34 L436.03 155.37 L437.43 155.4 L438.83 155.42 L440.23 155.45 L441.63 155.47 L443.03 155.5 L444.43 155.52 L445.83 155.55 L447.24 155.57 L448.64 155.59 L450.04 155.61 L451.44 155.63 L452.84 155.65 L454.24 155.67 L455.64 155.69 L457.05 155.71 L458.45 155.72 L459.85 155.74 L461.25 155.76 L462.65 155.77 L464.05 155.79 L465.45 155.8 L466.86 155.82 L468.26 155.83 L469.66 155.85 L471.06 155.86 L472.46 155.87 L473.86 155.89 L475.26 155.9 L476.67 155.91 L478.07 155.93 L479.47 155.94 L480.87 155.95 L482.27 155.96 L483.67 155.98 L485.07 155.99 L486.48 156 L487.88 156.01 L489.28 156.02 L490.68 156.04 L492.08 156.05 L493.48 156.06 L494.88 156.07 L496.28 156.08 L497.69 156.09 L499.09 156.11 L500.49 156.12 L501.89 156.13 L503.29 156.14 L504.69 156.15 L506.09 156.16 L507.5 156.17 L508.9 156.18 L510.3 156.2 L511.7 156.21" stroke="#c860ff"/><path d="M339.6 91.98 L339.64 97.93 L339.69 102.92 L339.73 107.12 L339.77 110.68 L339.82 113.71 L339.86 116.29 L339.9 118.51 L339.94 120.42 L339.99 122.11 L340.03 123.65 L340.07 125.07 L340.12 126.36 L340.15 127.32 L340.27 130.17 L340.39 132.45 L340.51 134.27 L340.62 135.73 L340.74 136.93 L340.86 137.99 L340.98 138.92 L341.1 139.74 L341.22 140.48 L341.33 141.14 L341.45 141.74 L341.57 142.29 L341.69 142.79 L341.81 143.24 L341.92 143.65 L342.04 144.03 L342.16 144.39 L342.28 144.71 L342.4 145.01 L342.52 145.28 L342.63 145.54 L342.75 145.78 L342.87 146 L342.99 146.21 L343.11 146.41 L343.23 146.6 L343.34 146.78 L343.46 146.95 L343.58 147.11 L343.7 147.26 L343.82 147.4 L343.94 147.54 L344.05 147.68 L344.17 147.81 L344.29 147.93 L344.41 148.05 L344.53 148.17 L344.64 148.28 L344.76 148.39 L344.94 148.54 L346.34 149.6 L347.74 150.48 L349.14 151.26 L350.54 151.9 L351.94 152.47 L353.34 152.97 L354.74 153.44 L356.15 153.87 L357.55 154.29 L358.95 154.7 L360.35 155.09 L361.75 155.46 L363.15 155.82 L364.55 156.15 L365.96 156.46 L367.36 156.75 L368.76 157.02 L370.16 157.27 L371.56 157.5 L372.96 157.72 L374.36 157.91 L375.77 158.1 L377.17 158.27 L378.57 158.44 L379.97 158.59 L381.37 158.75 L382.77 158.89 L384.17 159.03 L385.58 159.16 L386.98 159.29 L388.38 159.41 L389.78 159.52 L391.18 159.63 L392.58 159.74 L393.98 159.84 L395.38 159.94 L396.79 160.04 L398.19 160.13 L399.59 160.22 L400.99 160.3 L402.39 160.39 L403.79 160.47 L405.19 160.54 L406.6 160.62 L408 160.69 L409.4 160.76 L410.8 160.82 L412.2 160.89 L413.6 160.95 L415 161.02 L416.41 161.08 L417.81 161.14 L419.21 161.19 L420.61 161.25 L422.01 161.31 L423.41 161.36 L424.81 161.41 L426.22 161.46 L427.62 161.51 L429.02 161.56 L430.42 161.61 L431.82 161.65 L433.22 161.7 L434.62 161.74 L436.03 161.78 L437.43 161.82 L438.83 161.86 L440.23 161.9 L441.63 161.94 L443.03 161.98 L444.43 162.02 L445.83 162.05 L447.24 162.09 L448.64 162.12 L450.04 162.15 L451.44 162.19 L452.84 162.22 L454.24 162.25 L455.64 162.28 L457.05 162.31 L458.45 162.34 L459.85 162.36 L461.25 162.39 L462.65 162.42 L464.05 162.44 L465.45 162.47 L466.86 162.49 L468.26 162.52 L469.66 162.54 L471.06 162.56 L472.46 162.58 L473.86 162.6 L475.26 162.62 L476.67 162.64 L478.07 162.66 L479.47 162.68 L480.87 162.7 L482.27 162.72 L483.67 162.74 L485.07 162.76 L486.48 162.78 L487.88 162.8 L489.28 162.81 L490.68 162.83 L492.08 162.85 L493.48 162.87 L494.88 162.88 L496.28 162.9 L497.69 162.92 L499.09 162.93 L500.49 162.95 L501.89 162.97 L503.29 162.98 L504.69 163 L506.09 163.01 L507.5 163.03 L508.9 163.05 L510.3 163.06 L511.7 163.08" stroke="#22e022"/><path d="M339.6 23.25 L339.64 41.33 L339.69 57.07 L339.73 70.26 L339.77 81.07 L339.82 89.81 L339.86 96.75 L339.9 102.14 L339.94 106.2 L339.99 109.44 L340.03 112.28 L340.07 114.78 L340.12 117.01 L340.15 118.61 L340.27 123.14 L340.39 126.51 L340.51 129.05 L340.62 130.96 L340.74 132.46 L340.86 133.73 L340.98 134.82 L341.1 135.76 L341.22 136.58 L341.33 137.31 L341.45 137.96 L341.57 138.54 L341.69 139.07 L341.81 139.55 L341.92 139.98 L342.04 140.39 L342.16 140.76 L342.28 141.1 L342.4 141.42 L342.52 141.73 L342.63 142.01 L342.75 142.27 L342.87 142.52 L342.99 142.75 L343.11 142.98 L343.23 143.18 L343.34 143.38 L343.46 143.57 L343.58 143.75 L343.7 143.92 L343.82 144.08 L343.94 144.24 L344.05 144.39 L344.17 144.53 L344.29 144.67 L344.41 144.8 L344.53 144.93 L344.64 145.06 L344.76 145.18 L344.94 145.34 L346.34 146.49 L347.74 147.4 L349.14 148.16 L350.54 148.78 L351.94 149.3 L353.34 149.76 L354.74 150.18 L356.15 150.58 L357.55 150.95 L358.95 151.31 L360.35 151.64 L361.75 151.96 L363.15 152.26 L364.55 152.54 L365.96 152.8 L367.36 153.05 L368.76 153.29 L370.16 153.52 L371.56 153.73 L372.96 153.93 L374.36 154.12 L375.77 154.3 L377.17 154.48 L378.57 154.64 L379.97 154.8 L381.37 154.96 L382.77 155.1 L384.17 155.25 L385.58 155.38 L386.98 155.52 L388.38 155.65 L389.78 155.77 L391.18 155.89 L392.58 156.01 L393.98 156.13 L395.38 156.24 L396.79 156.35 L398.19 156.45 L399.59 156.56 L400.99 156.66 L402.39 156.76 L403.79 156.85 L405.19 156.95 L406.6 157.04 L408 157.13 L409.4 157.22 L410.8 157.3 L412.2 157.39 L413.6 157.47 L415 157.55 L416.41 157.64 L417.81 157.72 L419.21 157.79 L420.61 157.87 L422.01 157.95 L423.41 158.02 L424.81 158.09 L426.22 158.17 L427.62 158.24 L429.02 158.31 L430.42 158.37 L431.82 158.44 L433.22 158.5 L434.62 158.57 L436.03 158.63 L437.43 158.69 L438.83 158.75 L440.23 158.81 L441.63 158.87 L443.03 158.93 L444.43 158.98 L445.83 159.04 L447.24 159.09 L448.64 159.14 L450.04 159.19 L451.44 159.24 L452.84 159.29 L454.24 159.34 L455.64 159.38 L457.05 159.43 L458.45 159.47 L459.85 159.52 L461.25 159.56 L462.65 159.6 L464.05 159.64 L465.45 159.68 L466.86 159.72 L468.26 159.76 L469.66 159.8 L471.06 159.83 L472.46 159.87 L473.86 159.9 L475.26 159.94 L476.67 159.97 L478.07 160.01 L479.47 160.04 L480.87 160.07 L482.27 160.1 L483.67 160.14 L485.07 160.17 L486.48 160.2 L487.88 160.23 L489.28 160.26 L490.68 160.29 L492.08 160.32 L493.48 160.35 L494.88 160.38 L496.28 160.4 L497.69 160.43 L499.09 160.46 L500.49 160.49 L501.89 160.52 L503.29 160.55 L504.69 160.57 L506.09 160.6 L507.5 160.63 L508.9 160.66 L510.3 160.68 L511.7 160.71" stroke="#f5ac40"/><path d="M339.6 63.54 L339.64 73.59 L339.69 82.14 L339.73 89.32 L339.77 95.34 L339.82 100.36 L339.86 104.56 L339.9 108.05 L339.94 110.94 L339.99 113.45 L340.03 115.74 L340.07 117.84 L340.12 119.75 L340.15 121.15 L340.27 125.21 L340.39 128.28 L340.51 130.56 L340.62 132.17 L340.74 133.36 L340.86 134.34 L340.98 135.17 L341.1 135.88 L341.22 136.49 L341.33 137.04 L341.45 137.52 L341.57 137.96 L341.69 138.36 L341.81 138.73 L341.92 139.07 L342.04 139.4 L342.16 139.7 L342.28 139.99 L342.4 140.27 L342.52 140.54 L342.63 140.8 L342.75 141.05 L342.87 141.28 L342.99 141.5 L343.11 141.71 L343.23 141.92 L343.34 142.11 L343.46 142.3 L343.58 142.47 L343.7 142.65 L343.82 142.81 L343.94 142.97 L344.05 143.12 L344.17 143.27 L344.29 143.41 L344.41 143.55 L344.53 143.68 L344.64 143.81 L344.76 143.94 L344.94 144.11 L346.34 145.31 L347.74 146.23 L349.14 146.95 L350.54 147.52 L351.94 147.99 L353.34 148.41 L354.74 148.79 L356.15 149.16 L357.55 149.53 L358.95 149.89 L360.35 150.25 L361.75 150.6 L363.15 150.93 L364.55 151.23 L365.96 151.51 L367.36 151.77 L368.76 152 L370.16 152.21 L371.56 152.39 L372.96 152.55 L374.36 152.68 L375.77 152.81 L377.17 152.92 L378.57 153.03 L379.97 153.13 L381.37 153.22 L382.77 153.31 L384.17 153.4 L385.58 153.48 L386.98 153.55 L388.38 153.62 L389.78 153.69 L391.18 153.75 L392.58 153.81 L393.98 153.87 L395.38 153.92 L396.79 153.97 L398.19 154.02 L399.59 154.07 L400.99 154.11 L402.39 154.15 L403.79 154.19 L405.19 154.23 L406.6 154.27 L408 154.3 L409.4 154.33 L410.8 154.37 L412.2 154.4 L413.6 154.43 L415 154.46 L416.41 154.48 L417.81 154.51 L419.21 154.54 L420.61 154.56 L422.01 154.59 L423.41 154.61 L424.81 154.63 L426.22 154.66 L427.62 154.68 L429.02 154.7 L430.42 154.72 L431.82 154.74 L433.22 154.76 L434.62 154.77 L436.03 154.79 L437.43 154.81 L438.83 154.83 L440.23 154.84 L441.63 154.86 L443.03 154.87 L444.43 154.89 L445.83 154.9 L447.24 154.92 L448.64 154.93 L450.04 154.94 L451.44 154.95 L452.84 154.97 L454.24 154.98 L455.64 154.99 L457.05 155 L458.45 155.01 L459.85 155.02 L461.25 155.03 L462.65 155.04 L464.05 155.05 L465.45 155.06 L466.86 155.07 L468.26 155.07 L469.66 155.08 L471.06 155.09 L472.46 155.1 L473.86 155.1 L475.26 155.11 L476.67 155.12 L478.07 155.12 L479.47 155.13 L480.87 155.14 L482.27 155.14 L483.67 155.15 L485.07 155.16 L486.48 155.16 L487.88 155.17 L489.28 155.17 L490.68 155.18 L492.08 155.18 L493.48 155.19 L494.88 155.19 L496.28 155.2 L497.69 155.21 L499.09 155.21 L500.49 155.22 L501.89 155.22 L503.29 155.23 L504.69 155.23 L506.09 155.24 L507.5 155.24 L508.9 155.25 L510.3 155.25 L511.7 155.26" stroke="#ffec10"/><path d="M339.6 75.39 L339.64 85.07 L339.69 93.41 L339.73 100.41 L339.77 106.2 L339.82 110.96 L339.86 114.83 L339.9 117.95 L339.94 120.42 L339.99 122.46 L340.03 124.26 L340.07 125.87 L340.12 127.3 L340.15 128.34 L340.27 131.34 L340.39 133.66 L340.51 135.47 L340.62 136.91 L340.74 138.1 L340.86 139.13 L340.98 140.02 L341.1 140.81 L341.22 141.5 L341.33 142.13 L341.45 142.69 L341.57 143.2 L341.69 143.66 L341.81 144.08 L341.92 144.46 L342.04 144.82 L342.16 145.15 L342.28 145.45 L342.4 145.73 L342.52 146 L342.63 146.24 L342.75 146.47 L342.87 146.68 L342.99 146.88 L343.11 147.07 L343.23 147.25 L343.34 147.42 L343.46 147.58 L343.58 147.73 L343.7 147.87 L343.82 148.01 L343.94 148.15 L344.05 148.27 L344.17 148.39 L344.29 148.51 L344.41 148.63 L344.53 148.74 L344.64 148.84 L344.76 148.95 L344.94 149.09 L346.34 150.11 L347.74 150.96 L349.14 151.73 L350.54 152.38 L351.94 152.96 L353.34 153.47 L354.74 153.94 L356.15 154.36 L357.55 154.75 L358.95 155.1 L360.35 155.43 L361.75 155.74 L363.15 156.03 L364.55 156.3 L365.96 156.56 L367.36 156.8 L368.76 157.04 L370.16 157.27 L371.56 157.49 L372.96 157.71 L374.36 157.92 L375.77 158.12 L377.17 158.32 L378.57 158.51 L379.97 158.7 L381.37 158.88 L382.77 159.06 L384.17 159.23 L385.58 159.4 L386.98 159.56 L388.38 159.72 L389.78 159.88 L391.18 160.03 L392.58 160.18 L393.98 160.33 L395.38 160.47 L396.79 160.61 L398.19 160.74 L399.59 160.88 L400.99 161.01 L402.39 161.14 L403.79 161.26 L405.19 161.38 L406.6 161.5 L408 161.62 L409.4 161.74 L410.8 161.85 L412.2 161.97 L413.6 162.08 L415 162.19 L416.41 162.3 L417.81 162.41 L419.21 162.52 L420.61 162.63 L422.01 162.74 L423.41 162.84 L424.81 162.94 L426.22 163.04 L427.62 163.14 L429.02 163.24 L430.42 163.34 L431.82 163.43 L433.22 163.52 L434.62 163.62 L436.03 163.71 L437.43 163.79 L438.83 163.88 L440.23 163.96 L441.63 164.05 L443.03 164.13 L444.43 164.21 L445.83 164.28 L447.24 164.36 L448.64 164.43 L450.04 164.51 L451.44 164.58 L452.84 164.65 L454.24 164.71 L455.64 164.78 L457.05 164.84 L458.45 164.91 L459.85 164.97 L461.25 165.03 L462.65 165.08 L464.05 165.14 L465.45 165.2 L466.86 165.25 L468.26 165.3 L469.66 165.36 L471.06 165.41 L472.46 165.46 L473.86 165.51 L475.26 165.56 L476.67 165.6 L478.07 165.65 L479.47 165.7 L480.87 165.74 L482.27 165.79 L483.67 165.83 L485.07 165.87 L486.48 165.92 L487.88 165.96 L489.28 166 L490.68 166.04 L492.08 166.09 L493.48 166.13 L494.88 166.17 L496.28 166.21 L497.69 166.25 L499.09 166.29 L500.49 166.33 L501.89 166.37 L503.29 166.41 L504.69 166.44 L506.09 166.48 L507.5 166.52 L508.9 166.56 L510.3 166.6 L511.7 166.64" stroke="#d45e5e"/></g>
<g class="bl"><path d="M451.2 24 H462.1" stroke="#ff3535" stroke-width="1.1"/><text x="466.8" y="25.8">Chinese_crossbreed</text><path d="M451.2 30.45 H462.1" stroke="#3a3a3a" stroke-width="1.1"/><text x="466.8" y="32.25">Chinese_indicine</text><path d="M451.2 36.9 H462.1" stroke="#3535ff" stroke-width="1.1"/><text x="466.8" y="38.7">Chinese_taurine</text><path d="M451.2 43.35 H462.1" stroke="#c860ff" stroke-width="1.1"/><text x="466.8" y="45.15">East_Asian_taurine</text><path d="M451.2 49.8 H462.1" stroke="#22e022" stroke-width="1.1"/><text x="466.8" y="51.6">Eurasian_taurine</text><path d="M451.2 56.25 H462.1" stroke="#f5ac40" stroke-width="1.1"/><text x="466.8" y="58.05">European_taurine</text><path d="M451.2 62.7 H462.1" stroke="#ffec10" stroke-width="1.1"/><text x="466.8" y="64.5">Indian_indicine</text><path d="M451.2 69.15 H462.1" stroke="#d45e5e" stroke-width="1.1"/><text x="466.8" y="70.95">Yangba</text></g>
<text x="7" y="220.7" class="pl">C</text>
<text x="119.3" y="227.8" text-anchor="middle" class="ct">PCA (PC1 vs PC3)</text>
<path d="M153.5 231.8 V384.1 M50.5 320.4 H201.3" stroke="#e4e4e4" stroke-width="0.6" fill="none"/>
<rect x="50.5" y="231.8" width="150.8" height="152.3" fill="none" stroke="#b8b8b8" stroke-width="0.8"/>
<g stroke="#999" stroke-width="0.6"><path d="M48.3 247.4 H50.5"/><path d="M48.3 283.9 H50.5"/><path d="M48.3 320.4 H50.5"/><path d="M48.3 356.9 H50.5"/><path d="M53 384.1 V386.3"/><path d="M86.5 384.1 V386.3"/><path d="M120 384.1 V386.3"/><path d="M153.5 384.1 V386.3"/><path d="M187 384.1 V386.3"/></g>
<g class="ctk"><text x="47.7" y="249.2" text-anchor="end">0.2</text><text x="47.7" y="285.7" text-anchor="end">0.1</text><text x="47.7" y="322.2" text-anchor="end">0.0</text><text x="47.7" y="358.7" text-anchor="end">-0.1</text><text x="53" y="390.2" text-anchor="middle">-0.15</text><text x="86.5" y="390.2" text-anchor="middle">-0.10</text><text x="120" y="390.2" text-anchor="middle">-0.05</text><text x="153.5" y="390.2" text-anchor="middle">0.00</text><text x="187" y="390.2" text-anchor="middle">0.05</text></g>
<text x="123.5" y="397.8" text-anchor="middle" class="cax">PC1(20.56%)</text>
<text transform="translate(34.5 312.5) rotate(-90)" text-anchor="middle" class="cax">PC3(1.92%)</text>
<g><circle cx="85.1" cy="238.3" r="1.55" fill="#fb9a99"/><circle cx="90.3" cy="240.2" r="1.55" fill="#fb9a99"/><circle cx="86" cy="243.2" r="1.55" fill="#fb9a99"/><circle cx="88.4" cy="244.3" r="1.55" fill="#fb9a99"/><circle cx="76.7" cy="245.9" r="1.55" fill="#fb9a99"/><circle cx="98.3" cy="245.9" r="1.55" fill="#fb9a99"/><circle cx="91.2" cy="250" r="1.55" fill="#fb9a99"/><circle cx="97.1" cy="255.9" r="1.55" fill="#fb9a99"/><circle cx="103.2" cy="260.3" r="1.55" fill="#fb9a99"/><circle cx="107.8" cy="266.1" r="1.55" fill="#fb9a99"/><circle cx="77.5" cy="289.6" r="1.55" fill="#ee5a0a"/><circle cx="84" cy="290" r="1.55" fill="#ee5a0a"/><circle cx="86" cy="291.8" r="1.55" fill="#ee5a0a"/><circle cx="84.7" cy="292.9" r="1.55" fill="#ee5a0a"/><circle cx="82.7" cy="294.4" r="1.55" fill="#ee5a0a"/><circle cx="81.4" cy="296.4" r="1.55" fill="#ee5a0a"/><circle cx="90.3" cy="295.5" r="1.55" fill="#ee5a0a"/><circle cx="88.7" cy="323.3" r="1.55" fill="#ee5a0a"/><circle cx="79.2" cy="328.5" r="1.55" fill="#ee5a0a"/><circle cx="80.5" cy="330.9" r="1.55" fill="#ee5a0a"/><circle cx="84.7" cy="328.2" r="1.55" fill="#ee5a0a"/><circle cx="87.6" cy="328.2" r="1.55" fill="#ee5a0a"/><circle cx="89.8" cy="328.2" r="1.55" fill="#ee5a0a"/><circle cx="83.3" cy="340.5" r="1.55" fill="#ee5a0a"/><circle cx="80.5" cy="341.3" r="1.55" fill="#ee5a0a"/><circle cx="78.1" cy="343.8" r="1.55" fill="#ee5a0a"/><circle cx="61.5" cy="345.6" r="1.55" fill="#ee5a0a"/><circle cx="57.1" cy="350.5" r="1.55" fill="#ee5a0a"/><circle cx="59.3" cy="351.6" r="1.55" fill="#ee5a0a"/><circle cx="60.4" cy="351.8" r="1.55" fill="#ee5a0a"/><circle cx="56.5" cy="352.7" r="1.55" fill="#ee5a0a"/><circle cx="57.6" cy="353.8" r="1.55" fill="#ee5a0a"/><circle cx="56.8" cy="355.1" r="1.55" fill="#ee5a0a"/><circle cx="69.4" cy="354.7" r="1.55" fill="#ee5a0a"/><circle cx="70.9" cy="355.8" r="1.55" fill="#ee5a0a"/><circle cx="69.8" cy="361.4" r="1.55" fill="#ee5a0a"/><circle cx="67.7" cy="371.8" r="1.55" fill="#ee5a0a"/><circle cx="68.3" cy="371.8" r="1.55" fill="#ee5a0a"/><circle cx="66.1" cy="376.9" r="1.55" fill="#ee5a0a"/><circle cx="67.2" cy="376.7" r="1.55" fill="#ee5a0a"/><circle cx="118.5" cy="305.5" r="1.55" fill="#fdb863"/><circle cx="120" cy="307" r="1.55" fill="#fdb863"/><circle cx="116" cy="311" r="1.55" fill="#fdb863"/><circle cx="117.5" cy="310.5" r="1.55" fill="#fdb863"/><circle cx="115" cy="313" r="1.55" fill="#fdb863"/><circle cx="119" cy="312.5" r="1.55" fill="#fdb863"/><circle cx="121" cy="313.5" r="1.55" fill="#fdb863"/><circle cx="123" cy="313.5" r="1.55" fill="#fdb863"/><circle cx="117" cy="314" r="1.55" fill="#fdb863"/><circle cx="119" cy="315.5" r="1.55" fill="#fdb863"/><circle cx="135" cy="316.5" r="1.55" fill="#fdb863"/><circle cx="136" cy="317.2" r="1.55" fill="#fdb863"/><circle cx="139" cy="314" r="1.55" fill="#fdb863"/><circle cx="122" cy="317.2" r="1.55" fill="#1b9e77"/><circle cx="129.5" cy="316.2" r="1.55" fill="#1b9e77"/><circle cx="126.5" cy="319.5" r="1.55" fill="#1b9e77"/><circle cx="115.5" cy="319.5" r="1.55" fill="#1b9e77"/><circle cx="115.5" cy="321.5" r="1.55" fill="#1b9e77"/><circle cx="119.5" cy="322.5" r="1.55" fill="#1b9e77"/><circle cx="113" cy="324.5" r="1.55" fill="#1b9e77"/><circle cx="112" cy="324.8" r="1.55" fill="#1b9e77"/><circle cx="126.5" cy="325.5" r="1.55" fill="#1b9e77"/><circle cx="110.5" cy="332.2" r="1.55" fill="#1b9e77"/><circle cx="112.2" cy="334" r="1.55" fill="#1b9e77"/><circle cx="132.5" cy="337.2" r="1.55" fill="#1b9e77"/><circle cx="135.5" cy="337.2" r="1.55" fill="#1b9e77"/><circle cx="140.5" cy="336.8" r="1.55" fill="#1b9e77"/><circle cx="143" cy="336.8" r="1.55" fill="#1b9e77"/><circle cx="145.5" cy="318.5" r="1.55" fill="#1b9e77"/><circle cx="148.5" cy="314.5" r="1.55" fill="#1b9e77"/><circle cx="150.5" cy="319" r="1.55" fill="#1b9e77"/><circle cx="153" cy="315.5" r="1.55" fill="#1b9e77"/><circle cx="156.5" cy="316.5" r="1.55" fill="#1b9e77"/><circle cx="154.5" cy="318.5" r="1.55" fill="#1b9e77"/><circle cx="157" cy="320.5" r="1.55" fill="#1b9e77"/><circle cx="153.5" cy="324.5" r="1.55" fill="#1b9e77"/><circle cx="157.5" cy="331" r="1.55" fill="#1b9e77"/><circle cx="152" cy="335" r="1.55" fill="#1b9e77"/><circle cx="158.5" cy="335" r="1.55" fill="#1b9e77"/><circle cx="161.5" cy="317" r="1.55" fill="#1b9e77"/><circle cx="162" cy="319.5" r="1.55" fill="#1b9e77"/><circle cx="163.5" cy="322" r="1.55" fill="#1b9e77"/><circle cx="165" cy="321" r="1.55" fill="#1b9e77"/><circle cx="166.5" cy="321.8" r="1.55" fill="#1b9e77"/><circle cx="169" cy="324.5" r="1.55" fill="#1b9e77"/><circle cx="173.5" cy="325.5" r="1.55" fill="#1b9e77"/><circle cx="151" cy="315.5" r="1.55" fill="#1b9e77"/><circle cx="156" cy="316.5" r="1.55" fill="#1b9e77"/><circle cx="157.5" cy="320" r="1.55" fill="#1b9e77"/><circle cx="169.2" cy="310.5" r="1.55" fill="#7570b3"/><circle cx="172.2" cy="313.5" r="1.55" fill="#7570b3"/><circle cx="173.8" cy="314.5" r="1.55" fill="#7570b3"/><circle cx="177.2" cy="316.5" r="1.55" fill="#7570b3"/><circle cx="178" cy="319" r="1.55" fill="#7570b3"/><circle cx="180" cy="321" r="1.55" fill="#7570b3"/><circle cx="183" cy="307" r="1.55" fill="#7570b3"/><circle cx="183.5" cy="309" r="1.55" fill="#7570b3"/><circle cx="184" cy="311" r="1.55" fill="#7570b3"/><circle cx="185" cy="321" r="1.55" fill="#7570b3"/><circle cx="186.2" cy="322.5" r="1.55" fill="#7570b3"/><circle cx="188.5" cy="313.5" r="1.55" fill="#7570b3"/><circle cx="189.5" cy="315" r="1.55" fill="#7570b3"/><circle cx="187.5" cy="316.5" r="1.55" fill="#7570b3"/><circle cx="190.5" cy="317" r="1.55" fill="#7570b3"/><circle cx="190" cy="319.5" r="1.55" fill="#7570b3"/><circle cx="190.8" cy="325" r="1.55" fill="#7570b3"/><circle cx="182.6" cy="307.2" r="1.55" fill="#7570b3"/><circle cx="183.9" cy="311.1" r="1.55" fill="#7570b3"/><circle cx="188.8" cy="314.1" r="1.55" fill="#7570b3"/><circle cx="186.5" cy="316.4" r="1.55" fill="#7570b3"/><circle cx="180.7" cy="321" r="1.55" fill="#7570b3"/><circle cx="185.2" cy="321" r="1.55" fill="#7570b3"/><circle cx="193.7" cy="257.6" r="1.55" fill="#a6cee3"/><circle cx="193.7" cy="259.2" r="1.55" fill="#a6cee3"/><circle cx="193.7" cy="260.8" r="1.55" fill="#a6cee3"/><circle cx="193.7" cy="262.4" r="1.55" fill="#a6cee3"/><circle cx="193.7" cy="264" r="1.55" fill="#a6cee3"/><circle cx="189.8" cy="308.5" r="1.55" fill="#a6cee3"/><circle cx="190.1" cy="310.1" r="1.55" fill="#a6cee3"/><circle cx="194.1" cy="338" r="1.55" fill="#8fd66a"/><circle cx="192.3" cy="332" r="1.55" fill="#8fd66a"/><circle cx="192.8" cy="332.7" r="1.55" fill="#1f6fc0"/><circle cx="193.4" cy="334.7" r="1.55" fill="#1f6fc0"/><circle cx="194.1" cy="336.3" r="1.55" fill="#1f6fc0"/><circle cx="194.4" cy="341.9" r="1.55" fill="#1f6fc0"/><circle cx="195.1" cy="344.5" r="1.55" fill="#1f6fc0"/></g>
<g><text x="209.3" y="279.3" class="cgh">Group</text><circle cx="212.3" cy="286.1" r="1.45" fill="#1b9e77"/><text x="218.8" y="287.7" class="cgl">Chinese-crossbreed</text><circle cx="212.3" cy="293.45" r="1.45" fill="#ee5a0a"/><text x="218.8" y="295.05" class="cgl">Chinese-indicine</text><circle cx="212.3" cy="300.8" r="1.45" fill="#7570b3"/><text x="218.8" y="302.4" class="cgl">Chinese-taurine</text><circle cx="212.3" cy="308.15" r="1.45" fill="#a6cee3"/><text x="218.8" y="309.75" class="cgl">East-Asian-taurine</text><circle cx="212.3" cy="315.5" r="1.45" fill="#1f6fc0"/><text x="218.8" y="317.1" class="cgl">Eurasian-taurine</text><circle cx="212.3" cy="322.85" r="1.45" fill="#8fd66a"/><text x="218.8" y="324.45" class="cgl">European-taurine</text><circle cx="212.3" cy="330.2" r="1.45" fill="#fb9a99"/><text x="218.8" y="331.8" class="cgl">Indian-indicine</text><circle cx="212.3" cy="337.55" r="1.45" fill="#fdb863"/><text x="218.8" y="339.15" class="cgl">Yang-ba</text></g>
<text x="286.6" y="221.3" class="pl">D</text>
<g fill="none" stroke-width="0.5" opacity="0.22"><path d="M514.61 354.75 A95.81 95.81 0 0 0 509.38 327.59 M426.39 358.62 L522.59 352.51 M514.23 349.56 L522.28 348.76 M431.29 357.4 L521.84 345.02 M513.29 342.69 L521.26 341.3 M425.48 357.71 L520.55 337.61 M511.86 335.9 L519.71 333.94 M429.81 355.95 L518.73 330.31 M509.94 329.23 L517.62 326.71" stroke="#5e4fa2"/><path d="M508.15 325.2 A95.47 95.47 0 0 0 494.24 300.45 M425.01 356.65 L515.32 320.4 M506.12 320.26 L513.81 316.83 M428.84 354.22 L512.17 313.32 M502.98 313.86 L510.4 309.87 M424.4 355.87 L508.5 306.49 M499.37 307.72 L506.47 303.19 M427.4 353.22 L504.33 299.96 M495.32 301.87 L502.06 296.82" stroke="#c2185b"/><path d="M494.4 296.87 A97.84 97.84 0 0 0 472.47 277.23 M425.66 353.31 L497.81 291.51 M490.75 292.69 L495.2 288.58 M427.57 350.46 L492.49 285.75 M485.54 287.46 L489.67 283.03 M429.52 346.78 L486.75 280.41 M479.95 282.64 L483.73 277.91 M424.39 351.67 L480.62 275.52 M474.01 278.26 L477.42 273.25" stroke="#d9432b"/><path d="M469.52 276.81 A96.61 96.61 0 0 0 445.53 266.23 M432.23 336.46 L471.61 269.56 M464.64 274 L468.09 267.58 M431.84 332.61 L464.49 265.74 M457.89 270.7 L460.83 264.04 M428.37 335.13 L457.1 262.48 M450.9 267.94 L453.31 261.06 M425.95 336.19 L449.48 259.8" stroke="#1f74c0"/><path d="M441.43 271.36 A90.59 90.59 0 0 0 421.43 268.55 M424.08 337.24 L442.86 258 M436.5 270.24 L439.08 257.18 M423.72 328.9 L435.27 256.5 M429.84 269.17 L431.44 255.96 M420.98 334.29 L427.59 255.56 M423.11 268.61 L423.73 255.31" stroke="#f78a1e"/><path d="M418.9 261.85 A97.25 97.25 0 0 0 388.37 266.77 M418.49 335.93 L417.06 255.22 M413.73 261.99 L413.37 255.35 M416.68 334.11 L409.69 255.61 M406.85 262.6 L406.03 256 M414.1 329.32 L402.38 256.52 M400.04 263.7 L398.75 257.17 M413.46 335.92 L395.14 257.95 M393.32 265.28 L391.57 258.86 M410.64 332.54 L388.03 259.89" stroke="#138a4a"/><path d="M387.15 271.38 A93.29 93.29 0 0 0 363.15 284.3 M406.84 327.61 L381.75 262.07 M382.37 273.26 L378.22 263.5 M403.82 326.99 L374.74 265.05 M376.19 276.16 L371.33 266.73 M403.89 332.4 L367.97 268.54 M370.23 279.52 L364.69 270.46 M401.99 333.6 L361.48 272.51 M364.53 283.29 L358.34 274.67" stroke="#f0509c"/><path d="M358.93 283.17 A96.75 96.75 0 0 0 344.24 297.56 M376.57 307.42 L353.07 278.72 M354.98 286.47 L350.26 281.1 M374.75 312.39 L347.53 283.59 M349.99 291.19 L344.9 286.17 M372.38 316.4 L342.36 288.84 M345.35 296.24 L339.91 291.6" stroke="#163f92"/><path d="M344.95 301.53 A93.72 93.72 0 0 0 331.18 326.13 M383.25 332.41 L335.72 296.83 M341.81 305.81 L333.43 300.02 M382.63 336 L331.27 303.28 M338.01 311.77 L329.22 306.63 M376.63 336.47 L327.31 310.05 M334.67 318.01 L325.52 313.54 M375.92 340.1 L323.87 317.1 M331.81 324.48 L322.35 320.71" stroke="#1db03c"/><path d="M327.71 327.7 A96.45 96.45 0 0 0 322.98 349.02 M389.65 349.64 L320.04 327.14 M326.07 332.92 L318.9 330.9 M389.49 352 L317.91 334.7 M324.36 340.01 L317.06 338.53 M385.59 353.67 L316.35 342.4 M323.19 347.21 L315.79 346.29" stroke="#1a96bc"/><path d="M326.61 352 A92.56 92.56 0 0 0 326.86 368.94 M394.06 357.65 L315.18 353.03 M326.36 357.08 L315.02 356.83 M387.1 359.57 L315.01 360.64 M326.46 363.86 L315.14 364.45 M395.81 361.14 L315.4 368.25" stroke="#a155ac"/><path d="M324.7 371.84 A95.06 95.06 0 0 0 325.29 375.61 M381.72 364.51 L316.08 374.05 M325.13 374.67 L316.4 376.11" stroke="#3a8fa5"/><path d="M323.7 378.64 A97.18 97.18 0 0 0 326.96 390.58 M384.84 366.66 L317.47 381.61 M324.74 383.17 L318.24 384.83 M389.71 367.56 L319.11 388.02 M326.47 389.11 L320.08 391.19" stroke="#f7a282"/><path d="M331.74 391.69 A93.05 93.05 0 0 0 348.56 420.03 M391.32 369.97 L322.24 397.21 M333.6 396.29 L323.66 400.63 M393.89 371.08 L325.2 403.99 M336.47 402.27 L326.86 407.3 M392.18 374.33 L328.63 410.55 M339.75 408.03 L330.52 413.73 M398 373.07 L332.52 416.84 M343.43 413.53 L334.63 419.88 M396.04 376.86 L336.85 422.84 M347.49 418.76 L339.17 425.72" stroke="#f09090"/><path d="M349.86 422.37 A93.65 93.65 0 0 0 397.04 450.16 M363.97 411.34 L343.61 430.7 M353.48 426.11 L346.32 433.44 M368.83 414.35 L349.13 436.08 M358.63 430.77 L352.03 438.62 M370.7 420.93 L355.02 441.04 M364.11 435.04 L358.1 443.36 M374.83 425.21 L361.27 445.55 M369.88 438.89 L364.52 447.63 M382.17 424.19 L367.84 449.59 M375.93 442.31 L371.23 451.42 M386.28 428.45 L374.68 453.12 M382.22 445.26 L378.2 454.7 M393.67 425.04 L381.77 456.14 M388.7 447.74 L385.4 457.45 M396.79 432.87 L389.06 458.62 M395.35 449.74 L392.78 459.66" stroke="#f08080"/><path d="M399.68 450.32 A93.22 93.22 0 0 0 403.19 450.99 M403.17 437.47 L398.45 460.97 M402.31 450.84 L400.41 461.34" stroke="#4a9eb8"/><path d="M405.96 450.01 A91.82 91.82 0 0 0 432.63 449.89 M409.95 431.39 L406.14 462.21 M410.95 450.58 L409.9 462.61 M415.19 432.86 L413.68 462.87 M417.63 450.92 L417.46 462.99 M420.63 435.77 L421.25 462.97 M424.32 450.76 L425.03 462.82 M425.59 429.01 L428.8 462.53 M430.97 450.13 L432.56 462.1" stroke="#cc1138"/><path d="M435.67 452.31 A94.71 94.71 0 0 0 450.05 448.54 M433.37 431.35 L439.3 460.98 M441.13 451.16 L443.29 460.1 M438.85 429.5 L447.23 459.06 M448.28 449.13 L451.14 457.87" stroke="#b0c0c4"/><path d="M453.68 450.65 A97.93 97.93 0 0 0 479.33 436.16 M448.6 433.04 L457.62 455.51 M458.8 448.53 L461.23 453.99 M451.27 424.86 L464.78 452.32 M465.43 445.27 L468.27 450.52 M456.73 423.25 L471.68 448.59 M471.8 441.51 L475.02 446.54 M462.28 421.39 L478.28 444.36 M477.86 437.29 L481.46 442.06" stroke="#b0c0c4"/><path d="M477.3 429.45 A91.43 91.43 0 0 0 492.11 413.87 M466.5 414.19 L486.82 437.72 M481.34 425.88 L489.86 434.99 M473.29 412.88 L492.78 432.15 M486.39 420.78 L495.59 429.19 M478.11 409.09 L498.29 426.13 M491.02 415.29 L500.86 422.96" stroke="#f58a32"/><path d="M493.53 411.75 A91.33 91.33 0 0 0 497.27 406 M491.91 408.58 L504.91 417.39 M496.38 407.47 L507.04 414.12" stroke="#1aa3e0"/><path d="M498.68 403.87 A91.49 91.49 0 0 0 505.66 388.13 M487.44 395.88 L510.45 408.23 M501.09 399.29 L512.24 404.74 M491.27 391.17 L513.89 401.19 M503.88 392.99 L515.41 397.58 M492.94 385.44 L516.79 393.92" stroke="#cc3c3c"/><path d="M506.28 385.65 A91.33 91.33 0 0 0 510.15 362.77 M485.83 378.11 L518.85 387.49 M507.6 380.84 L519.81 383.83 M479.13 371.56 L520.65 380.14 M508.95 374.33 L521.34 376.43 M480.13 367.18 L521.91 372.69 M509.82 367.74 L522.33 368.93 M481.11 362.73 L522.62 365.16" stroke="#55b092"/></g>
<path d="M422.89 358.89 L514.77 354.08 M422.88 358.68 L514.37 349.07 M422.85 358.47 L513.72 344.08 M422.81 358.27 L512.8 339.14 M422.75 358 L511.18 332.64 M422.68 357.8 L509.67 327.85 M422.55 357.47 L506.6 320.05 M422.43 357.22 L503.66 314.03 M422.25 356.92 L499.41 306.81 M421.73 356.27 L486.78 291.22" stroke="#e8a0c0" stroke-width="0.5" fill="none" opacity="0.4"/>
<path d="M353.42 383.84 L325.36 394.45 M354.8 387.24 L327.33 399.29 M356.36 390.55 L329.56 404.03 M358.1 393.78 L332.04 408.65 M359.99 396.92 L334.75 413.12 M362.05 399.95 L337.69 417.45 M364.27 402.87 L340.86 421.62 M366.64 405.67 L344.24 425.62 M369.14 408.34 L347.82 429.44 M371.79 410.87 L351.6 433.06 M374.56 413.27 L355.56 436.48 M377.46 415.51 L359.7 439.69 M380.47 417.61 L364 442.68 M383.58 419.54 L368.45 445.44 M386.79 421.3 L373.04 447.96 M390.09 422.9 L377.75 450.24 M393.47 424.32 L382.57 452.27 M396.92 425.56 L387.5 454.04 M400.43 426.62 L392.51 455.56 M403.99 427.49 L397.6 456.8 M407.59 428.18 L402.74 457.79" stroke="#f0a0a0" stroke-width="0.5" fill="none" opacity="0.32"/>
<path d="M424.34 338.82 L443.49 267.34 M422.55 338.42 L435.4 265.54 M420.36 338.15 L425.53 264.33 M418.17 338.11 L415.58 264.16 M416.34 338.26 L407.32 264.81 M414.18 338.64 L397.53 266.53 M412.41 339.13 L389.54 268.75 M400.71 348.6 L336.63 311.6 M399.72 350.56 L332.11 320.46 M398.62 353.66 L327.14 334.51 M398.1 356.18 L324.82 345.88 M397.9 359.1 L323.9 359.1 M397.95 360.56 L324.13 365.73" stroke="#a8dcd8" stroke-width="0.5" fill="none" opacity="0.38"/>
<path d="M416.96 340.6 A18.6 18.6 0 0 0 401.42 352.74 M408.15 340.48 A21.5 21.5 0 0 0 398.23 365.03 M382.07 418.04 A69.5 69.5 0 0 0 458.76 416.03 M394.34 426.57 A71.8 71.8 0 0 0 466.01 413.29 M384.82 282.54 A83.8 83.8 0 0 0 357.61 301.95" stroke="#222" stroke-width="0.7" fill="none" opacity="0.7"/>
<g><path d="M531.84 355.55 A113 113 0 0 0 525.09 320.45 L517 323.39 A104.4 104.4 0 0 1 523.25 355.82 Z" fill="#5e4fa2"/><path d="M525.09 320.45 A113 113 0 0 0 507.09 288.45 L500.38 293.82 A104.4 104.4 0 0 1 517 323.39 Z" fill="#c2185b"/><path d="M507.09 288.45 A113 113 0 0 0 479.45 263.69 L474.84 270.95 A104.4 104.4 0 0 1 500.38 293.82 Z" fill="#d9432b"/><path d="M479.45 263.69 A113 113 0 0 0 448.53 250.05 L446.27 258.35 A104.4 104.4 0 0 1 474.84 270.95 Z" fill="#1f74c0"/><path d="M448.53 250.05 A113 113 0 0 0 420.48 246.11 L420.36 254.71 A104.4 104.4 0 0 1 446.27 258.35 Z" fill="#f78a1e"/><path d="M420.48 246.11 A113 113 0 0 0 381.92 252.32 L384.74 260.45 A104.4 104.4 0 0 1 420.36 254.71 Z" fill="#138a4a"/><path d="M381.92 252.32 A113 113 0 0 0 350.11 269.45 L355.35 276.27 A104.4 104.4 0 0 1 384.74 260.45 Z" fill="#f0509c"/><path d="M350.11 269.45 A113 113 0 0 0 330.71 288.45 L337.42 293.82 A104.4 104.4 0 0 1 355.35 276.27 Z" fill="#163f92"/><path d="M330.71 288.45 A113 113 0 0 0 312.58 320.82 L320.67 323.74 A104.4 104.4 0 0 1 337.42 293.82 Z" fill="#1db03c"/><path d="M312.58 320.82 A113 113 0 0 0 306.37 348.86 L314.93 349.64 A104.4 104.4 0 0 1 320.67 323.74 Z" fill="#1a96bc"/><path d="M306.37 348.86 A113 113 0 0 0 306.72 372.68 L315.26 371.64 A104.4 104.4 0 0 1 314.93 349.64 Z" fill="#a155ac"/><path d="M306.72 372.68 A113 113 0 0 0 307.9 380.27 L316.35 378.66 A104.4 104.4 0 0 1 315.26 371.64 Z" fill="#3a8fa5"/><path d="M307.9 380.27 A113 113 0 0 0 312.51 397.19 L320.61 394.29 A104.4 104.4 0 0 1 316.35 378.66 Z" fill="#f7a282"/><path d="M312.51 397.19 A113 113 0 0 0 334.53 434.27 L340.95 428.55 A104.4 104.4 0 0 1 320.61 394.29 Z" fill="#a155ac"/><path d="M334.53 434.27 A113 113 0 0 0 394.06 469.34 L395.95 460.95 A104.4 104.4 0 0 1 340.95 428.55 Z" fill="#a6b0b0"/><path d="M394.06 469.34 A113 113 0 0 0 401.42 470.74 L402.75 462.24 A104.4 104.4 0 0 1 395.95 460.95 Z" fill="#4a9eb8"/><path d="M401.42 470.74 A113 113 0 0 0 437.36 470.58 L435.95 462.1 A104.4 104.4 0 0 1 402.75 462.24 Z" fill="#cc1138"/><path d="M437.36 470.58 A113 113 0 0 0 457.55 465.29 L454.61 457.2 A104.4 104.4 0 0 1 435.95 462.1 Z" fill="#a8aeae"/><path d="M457.55 465.29 A113 113 0 0 0 489.86 447.04 L484.46 440.35 A104.4 104.4 0 0 1 454.61 457.2 Z" fill="#1d4a52"/><path d="M489.86 447.04 A113 113 0 0 0 510.32 425.52 L503.36 420.46 A104.4 104.4 0 0 1 484.46 440.35 Z" fill="#f58a32"/><path d="M510.32 425.52 A113 113 0 0 0 516.66 415.77 L509.22 411.46 A104.4 104.4 0 0 1 503.36 420.46 Z" fill="#1aa3e0"/><path d="M516.66 415.77 A113 113 0 0 0 526.55 393.46 L518.36 390.84 A104.4 104.4 0 0 1 509.22 411.46 Z" fill="#cc3c3c"/><path d="M526.55 393.46 A113 113 0 0 0 531.86 362.06 L523.26 361.83 A104.4 104.4 0 0 1 518.36 390.84 Z" fill="#55b092"/></g>
<g class="dl"><text transform="translate(536.89 336.16) rotate(79)" style="fill:#5e4fa2;stroke:#5e4fa2" text-anchor="middle" y="3.7">AG</text><text transform="translate(524.33 303.28) rotate(62.1)" style="fill:#c2185b;stroke:#c2185b" text-anchor="middle" y="3.7">HL</text><text transform="translate(501.69 273.07) rotate(43.9)" style="fill:#d9432b;stroke:#d9432b" text-anchor="middle" y="3.7">ZX</text><text transform="translate(471.57 252.06) rotate(26.2)" style="fill:#1f74c0;stroke:#1f74c0" text-anchor="middle" y="3.7">LM</text><text transform="translate(441.12 241.48) rotate(11)" style="fill:#f78a1e;stroke:#f78a1e" text-anchor="middle" y="3.7">XM</text><text transform="translate(401.12 241.54) rotate(0)" style="fill:#138a4a;stroke:#138a4a" text-anchor="middle" y="3.7">MG</text><text transform="translate(364.33 252) rotate(-9)" style="fill:#f0509c;stroke:#f0509c" text-anchor="middle" y="3.7">XZ</text><text transform="translate(336.46 270.39) rotate(-33)" style="fill:#163f92;stroke:#163f92" text-anchor="middle" y="3.7">YB</text><text transform="translate(314.72 296) rotate(-58.8)" style="fill:#1db03c;stroke:#1db03c" text-anchor="middle" y="3.7">HN</text><text transform="translate(302.51 327.91) rotate(-75)" style="fill:#1a96bc;stroke:#1a96bc" text-anchor="middle" y="3.7">RB</text><text transform="translate(298.62 357) rotate(-89)" style="fill:#a155ac;stroke:#a155ac" text-anchor="middle" y="3.7">QC</text><text transform="translate(299.73 376.27) rotate(-98.2)" style="fill:#3a8fa5;stroke:#3a8fa5" text-anchor="middle" y="3.7">NY</text><text transform="translate(302.46 393.81) rotate(-106.6)" style="fill:#f7a282;stroke:#f7a282" text-anchor="middle" y="3.7">LX</text><text transform="translate(316.89 425.1) rotate(57.1)" style="fill:#a155ac;stroke:#a155ac" text-anchor="middle" y="3.7">QC</text><text transform="translate(357.45 467.72) rotate(29.5)" style="fill:#111111;stroke:#111111" text-anchor="middle" y="3.7">YangBa</text><text transform="translate(419.32 480.3) rotate(-0.2)" style="fill:#cc1138;stroke:#cc1138" text-anchor="middle" y="3.7">BS</text><text transform="translate(451.35 476.91) rotate(-15.4)" style="fill:#a9adad;stroke:#a9adad" text-anchor="middle" y="3.7">DZ</text><text transform="translate(479.35 465.07) rotate(-29.7)" style="fill:#1d4a52;stroke:#1d4a52" text-anchor="middle" y="3.7">BH</text><text transform="translate(506.74 443.04) rotate(-46.3)" style="fill:#f58a32;stroke:#f58a32" text-anchor="middle" y="3.7">WS</text><text transform="translate(520 427.03) rotate(-56.1)" style="fill:#1aa3e0;stroke:#1aa3e0" text-anchor="middle" y="3.7">JJ</text><text transform="translate(529.7 407.97) rotate(-66.2)" style="fill:#cc3c3c;stroke:#cc3c3c" text-anchor="middle" y="3.7">WN</text><text transform="translate(537.65 377.7) rotate(-81.1)" style="fill:#55b092;stroke:#55b092" text-anchor="middle" y="3.7">LQ</text></g>
<text x="7.9" y="413.0" class="pl">E</text>
<g fill="none" stroke-width="0.6" opacity="0.85"><path d="M33.3 558.6 H35.6M33.3 558.6 V560.6M35.6 558.6 V560.6M37.9 558.6 H40.3M37.9 558.6 V560.6M40.3 558.6 V560.6M34.4 558.1 H39.1M34.4 558.1 V558.6M39.1 558.1 V558.6M42.6 558.1 H44.9M42.6 558.1 V560.6M44.9 558.1 V560.6M36.8 555.3 H43.8M36.8 555.3 V558.1M43.8 555.3 V558.1M49.6 558.6 H51.9M49.6 558.6 V560.6M51.9 558.6 V560.6M50.7 558.3 H54.2M50.7 558.3 V558.6M54.2 558.3 V560.6M47.2 555.3 H52.5M47.2 555.3 V560.6M52.5 555.3 V558.3M40.3 552 H49.9M40.3 552 V555.3M49.9 552 V555.3" stroke="#8c82cc"/><path d="M56.6 553.7 H58.9M56.6 553.7 V560.6M58.9 553.7 V560.6M61.2 553.7 H63.6M61.2 553.7 V560.6M63.6 553.7 V560.6M57.7 550 H62.4M57.7 550 V553.7M62.4 550 V553.7M68.2 556.3 H70.6M68.2 556.3 V560.6M70.6 556.3 V560.6M65.9 553.1 H69.4M65.9 553.1 V560.6M69.4 553.1 V556.3M75.2 556.1 H77.5M75.2 556.1 V560.6M77.5 556.1 V560.6M72.9 553.1 H76.4M72.9 553.1 V560.6M76.4 553.1 V556.1M67.6 550 H74.6M67.6 550 V553.1M74.6 550 V553.1M60.1 547.5 H71.1M60.1 547.5 V550M71.1 547.5 V550" stroke="#d8508c"/><path d="M79.9 553.4 H82.2M79.9 553.4 V560.6M82.2 553.4 V560.6M86.9 556.4 H89.2M86.9 556.4 V560.6M89.2 556.4 V560.6M84.5 553.4 H88M84.5 553.4 V560.6M88 553.4 V556.4M81 551 H86.3M81 551 V553.4M86.3 551 V553.4M96.2 558.6 H98.5M96.2 558.6 V560.6M98.5 558.6 V560.6M97.4 556.8 H100.9M97.4 556.8 V558.6M100.9 556.8 V560.6M93.9 553.7 H99.1M93.9 553.7 V560.6M99.1 553.7 V556.8M91.5 551 H96.5M91.5 551 V560.6M96.5 551 V553.7M83.7 547.5 H94M83.7 547.5 V551M94 547.5 V551" stroke="#f08a78"/><path d="M103.2 553.3 H105.5M103.2 553.3 V560.6M105.5 553.3 V560.6M110.2 555.9 H112.5M110.2 555.9 V560.6M112.5 555.9 V560.6M107.8 553.3 H111.3M107.8 553.3 V560.6M111.3 553.3 V555.9M104.3 550.4 H109.6M104.3 550.4 V553.3M109.6 550.4 V553.3M117.2 557.3 H119.5M117.2 557.3 V560.6M119.5 557.3 V560.6M114.8 553.9 H118.3M114.8 553.9 V560.6M118.3 553.9 V557.3M121.8 553.9 H124.2M121.8 553.9 V560.6M124.2 553.9 V560.6M116.6 550.4 H123M116.6 550.4 V553.9M123 550.4 V553.9M107 547.5 H119.8M107 547.5 V550.4M119.8 547.5 V550.4" stroke="#4a9ad8"/><path d="M126.5 556.9 H128.8M126.5 556.9 V560.6M128.8 556.9 V560.6M127.7 553.1 H131.2M127.7 553.1 V556.9M131.2 553.1 V560.6M129.4 550.5 H133.5M129.4 550.5 V553.1M133.5 550.5 V560.6M135.8 554.3 H138.1M135.8 554.3 V560.6M138.1 554.3 V560.6M140.5 554.3 H142.8M140.5 554.3 V560.6M142.8 554.3 V560.6M137 550.5 H141.6M137 550.5 V554.3M141.6 550.5 V554.3M131.4 547.5 H139.3M131.4 547.5 V550.5M139.3 547.5 V550.5" stroke="#f5ab5a"/><path d="M145.1 551.2 H147.5M145.1 551.2 V560.6M147.5 551.2 V560.6M149.8 551.2 H152.1M149.8 551.2 V560.6M152.1 551.2 V560.6M146.3 548.5 H151M146.3 548.5 V551.2M151 548.5 V551.2M159.1 556.1 H161.4M159.1 556.1 V560.6M161.4 556.1 V560.6M156.8 553.7 H160.3M156.8 553.7 V560.6M160.3 553.7 V556.1M154.5 551 H158.5M154.5 551 V560.6M158.5 551 V553.7M163.8 553.5 H166.1M163.8 553.5 V560.6M166.1 553.5 V560.6M164.9 551 H168.4M164.9 551 V553.5M168.4 551 V560.6M156.5 548.5 H166.7M156.5 548.5 V551M166.7 548.5 V551M148.6 546 H161.6M148.6 546 V548.5M161.6 546 V548.5" stroke="#3aa872"/><path d="M189.4 558.6 H191.7M189.4 558.6 V560.6M191.7 558.6 V560.6M187.1 558.6 H190.6M187.1 558.6 V560.6M190.6 558.6 V558.6M184.8 557.5 H188.8M184.8 557.5 V560.6M188.8 557.5 V558.6M182.4 554.6 H186.8M182.4 554.6 V560.6M186.8 554.6 V557.5M180.1 552.2 H184.6M180.1 552.2 V560.6M184.6 552.2 V554.6M177.8 549.7 H182.4M177.8 549.7 V560.6M182.4 549.7 V552.2M175.4 546.9 H180.1M175.4 546.9 V560.6M180.1 546.9 V549.7M173.1 544.3 H177.7M173.1 544.3 V560.6M177.7 544.3 V546.9M170.8 542 H175.4M170.8 542 V560.6M175.4 542 V544.3" stroke="#f27ab5"/><path d="M194.1 558.6 H196.4M194.1 558.6 V560.6M196.4 558.6 V560.6M195.2 555.4 H198.7M195.2 555.4 V558.6M198.7 555.4 V560.6M205.7 558.6 H208.1M205.7 558.6 V560.6M208.1 558.6 V560.6M203.4 558.1 H206.9M203.4 558.1 V560.6M206.9 558.1 V558.6M201.1 555.4 H205.1M201.1 555.4 V560.6M205.1 555.4 V558.1M197 551.9 H203.1M197 551.9 V555.4M203.1 551.9 V555.4" stroke="#4a64a8"/><path d="M229 558.6 H231.4M229 558.6 V560.6M231.4 558.6 V560.6M226.7 558 H230.2M226.7 558 V560.6M230.2 558 V558.6M224.4 555.7 H228.5M224.4 555.7 V560.6M228.5 555.7 V558M222 553.6 H226.4M222 553.6 V560.6M226.4 553.6 V555.7M219.7 550.8 H224.2M219.7 550.8 V560.6M224.2 550.8 V553.6M217.4 548.6 H222M217.4 548.6 V560.6M222 548.6 V550.8M215.1 546.2 H219.7M215.1 546.2 V560.6M219.7 546.2 V548.6M212.7 543.5 H217.4M212.7 543.5 V560.6M217.4 543.5 V546.2M210.4 540.5 H215M210.4 540.5 V560.6M215 540.5 V543.5" stroke="#5ac86c"/><path d="M236 547.9 H238.4M236 547.9 V560.6M238.4 547.9 V560.6M233.7 543.5 H237.2M233.7 543.5 V560.6M237.2 543.5 V547.9M243 550.3 H245.4M243 550.3 V560.6M245.4 550.3 V560.6M240.7 547 H244.2M240.7 547 V560.6M244.2 547 V550.3M247.7 547 H250M247.7 547 V560.6M250 547 V560.6M242.4 543.5 H248.8M242.4 543.5 V547M248.8 543.5 V547M235.4 540 H245.6M235.4 540 V543.5M245.6 540 V543.5" stroke="#58b4d0"/><path d="M252.3 553.6 H254.7M252.3 553.6 V560.6M254.7 553.6 V560.6M257 553.6 H259.3M257 553.6 V560.6M259.3 553.6 V560.6M253.5 550 H258.2M253.5 550 V553.6M258.2 550 V553.6M261.7 553.7 H264M261.7 553.7 V560.6M264 553.7 V560.6M266.3 553.7 H268.7M266.3 553.7 V560.6M268.7 553.7 V560.6M262.8 550 H267.5M262.8 550 V553.7M267.5 550 V553.7M255.8 546 H265.2M255.8 546 V550M265.2 546 V550" stroke="#c08ac8"/><path d="" stroke="#70b0c0"/><path d="M275.6 552.8 H278M275.6 552.8 V560.6M278 552.8 V560.6M273.3 550.1 H276.8M273.3 550.1 V560.6M276.8 550.1 V552.8M282.6 553.9 H285M282.6 553.9 V560.6M285 553.9 V560.6M280.3 550.1 H283.8M280.3 550.1 V560.6M283.8 550.1 V553.9M275.1 547 H282.1M275.1 547 V550.1M282.1 547 V550.1" stroke="#f5b898"/><path d="M315.3 556 H317.6M315.3 556 V560.6M317.6 556 V560.6M322.3 558.6 H324.6M322.3 558.6 V560.6M324.6 558.6 V560.6M319.9 558.6 H323.4M319.9 558.6 V560.6M323.4 558.6 V558.6M321.7 556 H326.9M321.7 556 V558.6M326.9 556 V560.6M316.4 552.1 H324.3M316.4 552.1 V556M324.3 552.1 V556M331.6 558.6 H333.9M331.6 558.6 V560.6M333.9 558.6 V560.6M332.7 556.2 H336.2M332.7 556.2 V558.6M336.2 556.2 V560.6M329.3 552.1 H334.5M329.3 552.1 V560.6M334.5 552.1 V556.2M320.4 548 H331.9M320.4 548 V552.1M331.9 548 V552.1M345.6 558.6 H347.9M345.6 558.6 V560.6M347.9 558.6 V560.6M343.2 557.8 H346.7M343.2 557.8 V560.6M346.7 557.8 V558.6M340.9 554.7 H345M340.9 554.7 V560.6M345 554.7 V557.8M338.6 551.3 H342.9M338.6 551.3 V560.6M342.9 551.3 V554.7M352.6 557.7 H354.9M352.6 557.7 V560.6M354.9 557.7 V560.6M353.7 554.7 H357.2M353.7 554.7 V557.7M357.2 554.7 V560.6M350.2 551.3 H355.5M350.2 551.3 V560.6M355.5 551.3 V554.7M340.8 548 H352.9M340.8 548 V551.3M352.9 548 V551.3M326.1 544 H346.8M326.1 544 V548M346.8 544 V548" stroke="#f29096"/><path d="M359.6 548 H361.9M359.6 548 V560.6M361.9 548 V560.6" stroke="#70b0c0"/><path d="M364.2 549.6 H366.5M364.2 549.6 V560.6M366.5 549.6 V560.6M371.2 552.9 H373.5M371.2 552.9 V560.6M373.5 552.9 V560.6M368.9 549.6 H372.4M368.9 549.6 V560.6M372.4 549.6 V552.9M365.4 545.7 H370.6M365.4 545.7 V549.6M370.6 545.7 V549.6M378.2 554.1 H380.5M378.2 554.1 V560.6M380.5 554.1 V560.6M375.9 549.8 H379.4M375.9 549.8 V560.6M379.4 549.8 V554.1M382.9 549.8 H385.2M382.9 549.8 V560.6M385.2 549.8 V560.6M377.6 545.7 H384M377.6 545.7 V549.8M384 545.7 V549.8M368 542 H380.8M368 542 V545.7M380.8 542 V545.7" stroke="#d85068"/><path d="M399.2 546.3 H401.5M399.2 546.3 V560.6M401.5 546.3 V560.6M396.8 543.6 H400.3M396.8 543.6 V560.6M400.3 543.6 V546.3M394.5 541 H398.6M394.5 541 V560.6M398.6 541 V543.6M392.2 537 H396.5M392.2 537 V560.6M396.5 537 V541M389.8 533.8 H394.4M389.8 533.8 V560.6M394.4 533.8 V537M387.5 531 H392.1M387.5 531 V560.6M392.1 531 V533.8" stroke="#b8bcbc"/><path d="M406.2 551.4 H408.5M406.2 551.4 V560.6M408.5 551.4 V560.6M403.8 547.3 H407.3M403.8 547.3 V560.6M407.3 547.3 V551.4M410.8 547.3 H413.2M410.8 547.3 V560.6M413.2 547.3 V560.6M405.6 544 H412M405.6 544 V547.3M412 544 V547.3M417.8 550.6 H420.1M417.8 550.6 V560.6M420.1 550.6 V560.6M415.5 547.3 H419M415.5 547.3 V560.6M419 547.3 V550.6M422.5 547.3 H424.8M422.5 547.3 V560.6M424.8 547.3 V560.6M417.2 544 H423.6M417.2 544 V547.3M423.6 544 V547.3M408.8 541 H420.4M408.8 541 V544M420.4 541 V544" stroke="#587880"/><path d="M448.1 539.2 H450.4M448.1 539.2 V560.6M450.4 539.2 V560.6M445.8 535 H449.3M445.8 535 V560.6M449.3 535 V539.2" stroke="#58bce8"/><path d="M255.8 459.5 H283M269.8 461.8 H295M289.5 466 H300.4M297 472 H304.7M299.3 475 H307M303.6 479 H310.2M306.9 482 H313.5M310.2 485 H316.7M313.5 488 H321M315.6 491 H325.5M283 459.5 V461.8M269.8 461.8 V560.6M295 461.8 V466M289.5 466 V560.6M300.4 466 V472M297 472 V552.6M304.7 472 V475M299.3 475 V560.6M307 475 V479M303.6 479 V560.6M310.2 479 V482M306.9 482 V552.6M313.5 482 V485M310.2 485 V560.6M316.7 485 V488M313.5 488 V560.6M321 488 V491M315.6 491 V552.6M325.5 491 V497M289.6 553.8 H292M289.6 553.8 V560.6M292 553.8 V560.6M287.3 551.1 H290.8M287.3 551.1 V560.6M290.8 551.1 V553.8M294.3 553.1 H296.6M294.3 553.1 V560.6M296.6 553.1 V560.6M299 553.1 H301.3M299 553.1 V560.6M301.3 553.1 V560.6M303.6 553.1 H305.9M303.6 553.1 V560.6M305.9 553.1 V560.6M308.3 553.1 H310.6M308.3 553.1 V560.6M310.6 553.1 V560.6" stroke="#c895d0"/><path d="M320 497 H334.2M325.5 499.6 H339.6M329.8 503 H349.4M335.3 505 H362.5M351.6 507.6 H373.5M357.1 510 H382M320 497 V560.6M334.2 497 V499.6M325.5 499.6 V560.6M339.6 499.6 V503M329.8 503 V552.6M349.4 503 V505M335.3 505 V560.6M362.5 505 V507.6M351.6 507.6 V560.6M373.5 507.6 V510M357.1 510 V552.6M317.6 553.9 H319.9M317.6 553.9 V560.6M319.9 553.9 V560.6M315.3 551.1 H318.8M315.3 551.1 V560.6M318.8 551.1 V553.9M322.3 553.1 H324.6M322.3 553.1 V560.6M324.6 553.1 V560.6M326.9 551 H329.3M326.9 551 V560.6M329.3 551 V560.6M331.6 551 H333.9M331.6 551 V560.6M333.9 551 V560.6M328.1 549.1 H332.7M328.1 549.1 V551M332.7 549.1 V551M336.2 553.1 H338.6M336.2 553.1 V560.6M338.6 553.1 V560.6M340.9 553.1 H343.2M340.9 553.1 V560.6M343.2 553.1 V560.6M345.6 553.1 H347.9M345.6 553.1 V560.6M347.9 553.1 V560.6M350.2 553.1 H352.6M350.2 553.1 V560.6M352.6 553.1 V560.6M351.4 551.1 H354.9M351.4 551.1 V553.1M354.9 551.1 V560.6" stroke="#f29096"/><path d="M52.5 415.8 V418.4" stroke="#8c82cc"/><path d="M62.5 418.4 V420.7" stroke="#8c82cc"/><path d="M71.6 420.7 V423.8" stroke="#a08cc8"/><path d="M86.5 423.8 V426.2" stroke="#d8508c"/><path d="M107 426.2 V428.6" stroke="#d890a8"/><path d="M128 428.6 V431.4" stroke="#d0a0a0"/><path d="M131 431.4 V431.6" stroke="#b8b8b8"/><path d="M145.5 431.6 V432.6" stroke="#b8b8b8"/><path d="M159 432.6 V436.5" stroke="#8cc4a4"/><path d="M172.6 436.5 V441.5" stroke="#3aa872"/><path d="M193.4 441.5 V444" stroke="#3aa872"/><path d="M229 444 V446" stroke="#6ab090"/><path d="M390 509.6 V512.5" stroke="#90b8c0"/><path d="M409 512.5 V517" stroke="#b0b8b8"/><path d="M33.1 415.8 H52.5" stroke="#8c82cc"/><path d="M43.5 418.4 H62.5" stroke="#8c82cc"/><path d="M53.5 420.7 H71.6" stroke="#a08cc8"/><path d="M56.5 423.8 H86.5" stroke="#d8508c"/><path d="M66.2 426.2 H107" stroke="#d890a8"/><path d="M86.1 428.6 H128" stroke="#d0a0a0"/><path d="M110.6 431.4 H131" stroke="#b8b8b8"/><path d="M131 431.6 H145.5" stroke="#b8b8b8"/><path d="M140 432.6 H159" stroke="#8cc4a4"/><path d="M151.5 436.5 H172.6" stroke="#3aa872"/><path d="M151.5 441.5 H193.4" stroke="#3aa872"/><path d="M157.3 444 H229" stroke="#6ab090"/><path d="M189.1 446 H269.8" stroke="#a8c8d4"/><path d="M255.8 459.5 H283" stroke="#c895d0"/><path d="M370 509.6 H390" stroke="#90b8c0"/><path d="M372.4 512.5 H409" stroke="#b0b8b8"/><path d="M391 517 H426.7" stroke="#d8b890"/><path d="M33.1 415.8 V560.6" stroke="#8c82cc"/><path d="M36.2 415.8 V560.6" stroke="#8c82cc"/><path d="M43.5 418.4 V552" stroke="#8c82cc"/><path d="M53.5 420.7 V560.6" stroke="#8c82cc"/><path d="M56.5 423.8 V547.5" stroke="#d8508c"/><path d="M66.2 426.2 V547.5" stroke="#d8508c"/><path d="M86.5 428.6 V547.5" stroke="#f08a78"/><path d="M110.6 431.4 V547.5" stroke="#b8b8b8"/><path d="M131 431.6 V547.5" stroke="#b8b8b8"/><path d="M145.6 432.6 V553.5" stroke="#3aa872"/><path d="M151.5 436.5 V550" stroke="#3aa872"/><path d="M157.3 442 V546" stroke="#3aa872"/><path d="M189.5 446 V532.3" stroke="#b0b0b0"/><path d="M255.8 459.5 V546" stroke="#c08ac8"/><path d="M269.8 446 V459.5" stroke="#a8c8d4"/><path d="M269.8 461.8 V542" stroke="#c08ac8"/><path d="M370 509.6 V544" stroke="#90b8c0"/><path d="M390 512.5 V531" stroke="#b0b8b8"/><path d="M426.7 517 V520" stroke="#f5aa6a"/><path d="M172.4 532.3 H189.5" stroke="#f27ab5"/><path d="M189.5 532.3 H205.9 V535.5 M199.4 535.5 H212.5 M199.4 535.5 V551.9" stroke="#6a84c0"/><path d="M172.4 532.3 V542" stroke="#f27ab5"/><path d="M212.5 535.5 V537.2 M209.2 537.2 H217.4 M209.2 537.2 V560.6 M217.4 537.2 V540.5" stroke="#5ac86c"/><path d="M427.1 519.5 H430.7M427.1 519.5 V560.6M430.7 519.5 V521.8M429.5 521.8 H433.1M429.5 521.8 V560.6M433.1 521.8 V524.1M431.8 524.1 H435.4M431.8 524.1 V560.6M435.4 524.1 V526.4M434.1 526.4 H437.7M434.1 526.4 V560.6M437.7 526.4 V528.7M436.5 528.7 H440.1M436.5 528.7 V560.6M440.1 528.7 V531M438.8 531 H442.4M438.8 531 V560.6M442.4 531 V533.3M441.1 533.3 H444.7M441.1 533.3 V560.6M444.7 533.3 V535.6M443.5 535.6 H447M443.5 535.6 V560.6M447 535.6 V560.6" stroke="#f5aa6a"/><path d="M447 535.6 V537.5 M447 537.5 H458.5 M458.5 537.5 V539.6" stroke="#9cc0d0"/><path d="M452.8 539.6 H456.2M452.8 539.6 V560.6M456.2 539.6 V541.2M455.1 541.2 H458.5M455.1 541.2 V560.6M458.5 541.2 V542.8M457.4 542.8 H460.8M457.4 542.8 V560.6M460.8 542.8 V544.4M459.8 544.4 H463.2M459.8 544.4 V560.6M463.2 544.4 V546M462.1 546 H465.5M462.1 546 V560.6M465.5 546 V547.6M464.4 547.6 H467.8M464.4 547.6 V560.6M467.8 547.6 V549.2M466.8 549.2 H470M466.8 549.2 V560.6M470 549.2 V560.6" stroke="#dc7070"/><path d="M458.5 539.6 H476 M476 539.6 V541" stroke="#c0a0a0"/><path d="M469.1 541 H472.3M469.1 541 V560.6M472.3 541 V542.9M471.4 542.9 H474.6M471.4 542.9 V560.6M474.6 542.9 V544.8M473.8 544.8 H477M473.8 544.8 V560.6M477 544.8 V546.7M476.1 546.7 H479.3M476.1 546.7 V560.6M479.3 546.7 V548.6M478.4 548.6 H481.6M478.4 548.6 V560.6M481.6 548.6 V550.5M480.7 550.5 H483.9M480.7 550.5 V560.6M483.9 550.5 V552.4M483.1 552.4 H486.3M483.1 552.4 V560.6M486.3 552.4 V554.3M485.4 554.3 H487.7M485.4 554.3 V560.6M487.7 554.3 V560.6" stroke="#80c4aa"/></g>
<g shape-rendering="crispEdges"><rect x="32.1" y="569.1" width="456.8" height="26" fill="#fec80a"/><path d="M32.1 595.1V595.1H34.4V595.1H36.8V595.1H39.1V595.1H41.4V595.1H43.8V595.1H46.1V595.1H48.4V595.1H50.7V595.1H53.1V595.1H55.4V595.1H57.7V595.1H60.1V595.1H62.4V595.1H64.7V595.1H67.1V595.1H69.4V595.1H71.7V595.1H74.1V595.1H76.4V595.1H78.7V595.1H81V595.1H83.4V595.1H85.7V595.1H88V595.1H90.4V595.1H92.7V595.1H95V595.1H97.4V595.1H99.7V595.1H102V595.1H104.3V595.1H106.7V595.1H109V595.1H111.3V595.1H113.7V595.1H116V595.1H118.3V595.1H120.7V595.1H123V595.1H125.3V595.1H127.7V595.1H130V595.1H132.3V595.1H134.6V595.1H137V595.1H139.3V595.1H141.6V595.1H144V594.2H146.3V593.9H148.6V593.5H151V592.3H153.3V592.3H155.6V592.7H158V592.2H160.3V591.5H162.6V592.2H164.9V591.7H167.3V592.3H169.6V593.4H171.9V593.4H174.3V594.1H176.6V594.1H178.9V593.6H181.3V594.2H183.6V594.3H185.9V594.2H188.3V594.1H190.6V593.8H192.9V594.1H195.2V594.9H197.6V594.1H199.9V594.5H202.2V594.2H204.6V594.3H206.9V594.9H209.2V594.7H211.6V595.1H213.9V595.1H216.2V594.9H218.5V594.5H220.9V594.7H223.2V595.1H225.5V594.5H227.9V594.4H230.2V595.1H232.5V595.1H234.9V595.1H237.2V595.1H239.5V595.1H241.9V595.1H244.2V595.1H246.5V595.1H248.8V595.1H251.2V590.7H253.5V589.7H255.8V588.6H258.2V589.5H260.5V587.8H262.8V586.9H265.2V587.7H267.5V587.4H269.8V586H272.2V583.9H274.5V584.5H276.8V583.6H279.1V583.8H281.5V584.4H283.8V582.9H286.1V589.2H288.5V588.9H290.8V587.2H293.1V586.6H295.5V586H297.8V586.2H300.1V586.8H302.5V584.9H304.8V584.3H307.1V584.4H309.4V583.8H311.8V584.1H314.1V582.6H316.4V581.7H318.8V582.5H321.1V580.3H323.4V579.2H325.8V580.7H328.1V579H330.4V579H332.7V580.6H335.1V580.7H337.4V579.2H339.7V580.1H342.1V579.8H344.4V578.9H346.7V578.8H349.1V578.5H351.4V578.9H353.7V579.4H356.1V580.2H358.4V579.5H360.7V579.3H363V578.5H365.4V578H367.7V579.4H370V578.9H372.4V577.5H374.7V580.9H377V580H379.4V580.2H381.7V580.1H384V580.7H386.4V572.5H388.7V572.3H391V573.1H393.3V572.1H395.7V572H398V573.3H400.3V573.1H402.7V577.7H405V574.6H407.3V574.5H409.7V573.7H412V574.6H414.3V574.7H416.7V573.1H419V574.1H421.3V573.8H423.6V573.9H426V572.7H428.3V572.6H430.6V573H433V572.4H435.3V572.9H437.6V573H440V572.9H442.3V572.6H444.6V571.8H446.9V572.4H449.3V571.8H451.6V570.2H453.9V570.4H456.3V569.9H458.6V570.4H460.9V569.6H463.3V570.2H465.6V570.3H467.9V569.7H470.3V569.7H472.6V569.1H474.9V569.1H477.2V569.4H479.6V569.8H481.9V570H484.2V569.9H486.6V569.7H488.9V595.1 Z" fill="#0c0cd0"/><rect x="32.1" y="601.6" width="456.8" height="26" fill="#fec80a"/><path d="M32.1 627.6V601.6H34.4V601.6H36.8V601.6H39.1V601.6H41.4V601.6H43.8V601.6H46.1V601.6H48.4V601.6H50.7V601.6H53.1V601.6H55.4V601.6H57.7V601.6H60.1V601.6H62.4V601.6H64.7V601.6H67.1V601.6H69.4V601.6H71.7V601.6H74.1V601.6H76.4V601.6H78.7V601.6H81V601.6H83.4V601.6H85.7V601.6H88V601.6H90.4V601.6H92.7V601.6H95V601.6H97.4V601.6H99.7V601.6H102V601.6H104.3V601.6H106.7V601.6H109V601.6H111.3V601.6H113.7V601.6H116V601.6H118.3V601.6H120.7V601.6H123V601.6H125.3V601.6H127.7V601.6H130V601.6H132.3V601.6H134.6V601.6H137V601.6H139.3V601.6H141.6V601.6H144V602.6H146.3V601.6H148.6V601.8H151V605.3H153.3V604H155.6V603.4H158V605.7H160.3V604.2H162.6V604.4H164.9V604H167.3V604.9H169.6V602.8H171.9V602.3H174.3V601.6H176.6V601.6H178.9V602.2H181.3V601.7H183.6V602.8H185.9V602H188.3V602.3H190.6V602.5H192.9V601.6H195.2V601.6H197.6V601.6H199.9V601.6H202.2V601.6H204.6V601.6H206.9V601.6H209.2V601.6H211.6V601.6H213.9V601.6H216.2V601.6H218.5V601.6H220.9V601.6H223.2V601.6H225.5V601.6H227.9V601.6H230.2V601.6H232.5V601.6H234.9V601.6H237.2V601.6H239.5V601.6H241.9V601.6H244.2V601.6H246.5V601.6H248.8V601.6H251.2V606.4H253.5V603.9H255.8V608H258.2V605.5H260.5V608H262.8V605.7H265.2V605.9H267.5V607.8H269.8V609.7H272.2V610.5H274.5V610.8H276.8V611.5H279.1V609.2H281.5V610.4H283.8V610.9H286.1V609.7H288.5V609.4H290.8V608.9H293.1V609.6H295.5V608.9H297.8V611.4H300.1V611.6H302.5V610.9H304.8V610.1H307.1V608.7H309.4V609.5H311.8V609.1H314.1V618.3H316.4V617.7H318.8V617.6H321.1V617.8H323.4V618.7H325.8V617.7H328.1V617.2H330.4V617.6H332.7V616.5H335.1V617.1H337.4V616H339.7V618.6H342.1V618.1H344.4V617.9H346.7V616.5H349.1V618.2H351.4V617.8H353.7V616.4H356.1V617.3H358.4V617.2H360.7V616.7H363V617.9H365.4V617H367.7V618.2H370V618.2H372.4V616.4H374.7V615H377V617.1H379.4V616.7H381.7V614.9H384V616.6H386.4V622.9H388.7V623.3H391V623H393.3V624.1H395.7V624.7H398V623.2H400.3V622.8H402.7V620H405V621.8H407.3V620.9H409.7V620.2H412V620.6H414.3V620.7H416.7V620.5H419V619.6H421.3V620.2H423.6V621.6H426V623.1H428.3V624.4H430.6V624.1H433V622.6H435.3V623H437.6V623.6H440V623.9H442.3V623.7H444.6V624.5H446.9V623.7H449.3V624H451.6V626.3H453.9V626.1H456.3V626.5H458.6V626.1H460.9V626.2H463.3V627.1H465.6V626.4H467.9V627.6H470.3V627.6H472.6V627.6H474.9V627.6H477.2V627.6H479.6V627.6H481.9V627.6H484.2V627.6H486.6V627.6H488.9V627.6 Z" fill="#0c0cd0"/><path d="M32.1 627.6V627.6H34.4V627.6H36.8V627.6H39.1V627.6H41.4V627.6H43.8V627.6H46.1V627.6H48.4V627.6H50.7V627.6H53.1V627.6H55.4V627.6H57.7V627.6H60.1V627.6H62.4V627.6H64.7V627.6H67.1V627.6H69.4V627.6H71.7V627.6H74.1V627.6H76.4V627.6H78.7V627.6H81V627.6H83.4V627.6H85.7V627.6H88V627.6H90.4V627.6H92.7V627.6H95V627.6H97.4V627.6H99.7V627.6H102V627.6H104.3V627.6H106.7V627.6H109V627.6H111.3V627.6H113.7V627.6H116V627.6H118.3V627.6H120.7V627.6H123V627.6H125.3V627.6H127.7V627.6H130V627.6H132.3V627.6H134.6V627.6H137V627.6H139.3V627.6H141.6V627.6H144V619.8H146.3V619.4H148.6V620.1H151V621.4H153.3V621.2H155.6V621.4H158V621.7H160.3V621.7H162.6V621.1H164.9V621.2H167.3V621H169.6V611.8H171.9V612.7H174.3V607.9H176.6V607.2H178.9V607.7H181.3V607.3H183.6V607.8H185.9V606.6H188.3V607.2H190.6V607H192.9V616.8H195.2V616.8H197.6V615.5H199.9V614H202.2V614.3H204.6V615.2H206.9V615.5H209.2V612.7H211.6V612.5H213.9V612.9H216.2V612.7H218.5V611.5H220.9V612.8H223.2V612.7H225.5V612.5H227.9V612.6H230.2V612.1H232.5V601.6H234.9V601.6H237.2V601.6H239.5V601.6H241.9V601.6H244.2V601.6H246.5V601.6H248.8V601.6H251.2V619.1H253.5V618.6H255.8V619.8H258.2V619H260.5V619.2H262.8V619.1H265.2V619.3H267.5V618.6H269.8V623.9H272.2V622.6H274.5V624H276.8V622.7H279.1V623.1H281.5V623.4H283.8V622.8H286.1V619.7H288.5V619H290.8V619.5H293.1V619.6H295.5V618.1H297.8V620.2H300.1V620.2H302.5V620H304.8V619.4H307.1V618.7H309.4V618.6H311.8V618.7H314.1V622.3H316.4V622H318.8V621.1H321.1V621.7H323.4V622H325.8V622.5H328.1V621.1H330.4V621.3H332.7V621.2H335.1V621.1H337.4V620.6H339.7V622.5H342.1V621.7H344.4V621.4H346.7V621.1H349.1V622.5H351.4V622.1H353.7V621.2H356.1V621H358.4V621.7H360.7V621.7H363V622.5H365.4V622.6H367.7V622.9H370V622.7H372.4V621.7H374.7V621.8H377V622.2H379.4V622.7H381.7V621.7H384V622.1H386.4V625.5H388.7V625.8H391V625.1H393.3V625.6H395.7V626.1H398V625.5H400.3V625H402.7V623.9H405V625.1H407.3V624.9H409.7V623.9H412V625H414.3V624.8H416.7V625.1H419V624H421.3V624H423.6V625.3H426V625.1H428.3V626H430.6V626H433V625.1H435.3V625.3H437.6V626H440V625.9H442.3V626.2H444.6V626.1H446.9V625.4H449.3V625.4H451.6V626.3H453.9V626.1H456.3V626.5H458.6V626.1H460.9V626.2H463.3V627.1H465.6V626.4H467.9V627.6H470.3V627.6H472.6V627.6H474.9V627.6H477.2V627.6H479.6V627.6H481.9V627.6H484.2V627.6H486.6V627.6H488.9V627.6 Z" fill="#f81212"/><rect x="32.1" y="634.2" width="456.8" height="26" fill="#fec80a"/><path d="M32.1 660.2V634.2H34.4V634.2H36.8V634.2H39.1V634.2H41.4V634.2H43.8V634.2H46.1V634.2H48.4V634.2H50.7V634.2H53.1V634.2H55.4V634.2H57.7V634.2H60.1V634.2H62.4V634.2H64.7V634.2H67.1V634.2H69.4V634.2H71.7V634.2H74.1V634.2H76.4V634.2H78.7V634.2H81V634.2H83.4V634.2H85.7V634.2H88V634.2H90.4V634.2H92.7V634.2H95V634.2H97.4V634.2H99.7V634.2H102V634.2H104.3V634.2H106.7V634.2H109V634.2H111.3V634.2H113.7V634.2H116V634.2H118.3V634.2H120.7V634.2H123V634.2H125.3V634.2H127.7V634.2H130V634.2H132.3V634.2H134.6V634.2H137V634.2H139.3V634.2H141.6V634.2H144V640.8H146.3V640.6H148.6V640.8H151V640.3H153.3V641.4H155.6V640.5H158V639.4H160.3V641.7H162.6V640.4H164.9V640.1H167.3V640.8H169.6V648.5H171.9V648.6H174.3V654.2H176.6V654.2H178.9V655H181.3V655.3H183.6V654.8H185.9V654.1H188.3V654.5H190.6V654H192.9V642.9H195.2V642.9H197.6V643.6H199.9V645.6H202.2V645.5H204.6V644.5H206.9V644.3H209.2V649.4H211.6V649H213.9V649.4H216.2V648.7H218.5V648.1H220.9V648.3H223.2V648.8H225.5V649.3H227.9V647.9H230.2V649.4H232.5V660.2H234.9V660.2H237.2V660.2H239.5V660.2H241.9V660.2H244.2V660.2H246.5V660.2H248.8V660.2H251.2V639.3H253.5V640.2H255.8V640.1H258.2V640.6H260.5V639.7H262.8V639.6H265.2V641.6H267.5V641.5H269.8V638.1H272.2V638.4H274.5V638.9H276.8V638.9H279.1V636.9H281.5V639H283.8V637.9H286.1V641.1H288.5V642H290.8V642.9H293.1V640.5H295.5V642.8H297.8V642.9H300.1V640.4H302.5V641.3H304.8V641.7H307.1V641.9H309.4V642.2H311.8V642H314.1V639.8H316.4V640.9H318.8V643.1H321.1V640.7H323.4V638.6H325.8V640.4H328.1V640.5H330.4V640.5H332.7V639.5H335.1V639.5H337.4V642.4H339.7V640.9H342.1V642.9H344.4V639.1H346.7V641.7H349.1V641H351.4V642.3H353.7V640.6H356.1V642.2H358.4V641.4H360.7V639.4H363V639.1H365.4V640.9H367.7V641.6H370V639.4H372.4V641H374.7V639.8H377V639.6H379.4V641.2H381.7V640.7H384V640.9H386.4V638.2H388.7V636H391V634.2H393.3V634.2H395.7V634.3H398V634.2H400.3V636H402.7V634.2H405V634.2H407.3V634.2H409.7V634.2H412V634.2H414.3V634.2H416.7V634.2H419V634.2H421.3V634.2H423.6V634.2H426V635.9H428.3V634.9H430.6V635.9H433V634.4H435.3V636.7H437.6V635.4H440V636.7H442.3V634.2H444.6V634.8H446.9V635.7H449.3V635H451.6V634.2H453.9V634.2H456.3V634.2H458.6V634.2H460.9V634.2H463.3V634.2H465.6V634.2H467.9V634.2H470.3V634.2H472.6V634.2H474.9V634.2H477.2V634.2H479.6V634.2H481.9V634.2H484.2V634.2H486.6V634.2H488.9V660.2 Z" fill="#0c0cd0"/><path d="M32.1 660.2V634.2H34.4V634.2H36.8V634.2H39.1V634.2H41.4V634.2H43.8V634.2H46.1V634.2H48.4V634.2H50.7V634.2H53.1V634.2H55.4V634.2H57.7V634.2H60.1V634.2H62.4V634.2H64.7V634.2H67.1V634.2H69.4V634.2H71.7V634.2H74.1V634.2H76.4V634.2H78.7V634.2H81V634.2H83.4V634.2H85.7V634.2H88V634.2H90.4V634.2H92.7V634.2H95V634.2H97.4V634.2H99.7V634.2H102V634.2H104.3V634.2H106.7V634.2H109V634.2H111.3V634.2H113.7V634.2H116V634.2H118.3V634.2H120.7V634.2H123V634.2H125.3V634.2H127.7V634.2H130V634.2H132.3V634.2H134.6V634.2H137V634.2H139.3V634.2H141.6V634.2H144V640.8H146.3V640.6H148.6V640.8H151V640.3H153.3V641.4H155.6V640.5H158V639.4H160.3V641.7H162.6V640.4H164.9V640.1H167.3V640.8H169.6V650H171.9V650.2H174.3V654.2H176.6V654.2H178.9V655H181.3V655.3H183.6V654.8H185.9V654.1H188.3V654.5H190.6V654H192.9V642.9H195.2V642.9H197.6V643.6H199.9V645.6H202.2V645.5H204.6V644.5H206.9V644.3H209.2V649.4H211.6V649H213.9V649.4H216.2V648.7H218.5V648.1H220.9V648.3H223.2V648.8H225.5V649.3H227.9V647.9H230.2V649.4H232.5V660.2H234.9V660.2H237.2V660.2H239.5V660.2H241.9V660.2H244.2V660.2H246.5V660.2H248.8V660.2H251.2V644.7H253.5V645.3H255.8V645.1H258.2V645.4H260.5V644.1H262.8V645.3H265.2V646.9H267.5V646.4H269.8V647.9H272.2V647.6H274.5V648H276.8V648.7H279.1V646.7H281.5V648.4H283.8V647.9H286.1V648H288.5V648.4H290.8V650.5H293.1V648.5H295.5V648.7H297.8V650.2H300.1V647.9H302.5V648.3H304.8V649.3H307.1V648H309.4V648.5H311.8V649H314.1V650.3H316.4V651.8H318.8V652.7H321.1V651.9H323.4V650.9H325.8V652.1H328.1V651.5H330.4V651.5H332.7V651.5H335.1V650.7H337.4V652.2H339.7V651H342.1V653H344.4V651.2H346.7V652.6H349.1V651.3H351.4V652.2H353.7V651.6H356.1V651.9H358.4V651H360.7V651.4H363V651.4H365.4V652.9H367.7V652.5H370V651.8H372.4V652.9H374.7V651.3H377V651H379.4V653.3H381.7V651H384V651.1H386.4V649.6H388.7V648.6H391V646.5H393.3V646.5H395.7V644.9H398V645H400.3V646.3H402.7V634.2H405V634.2H407.3V634.2H409.7V634.2H412V634.2H414.3V634.2H416.7V634.2H419V634.2H421.3V634.2H423.6V634.2H426V655.5H428.3V655.2H430.6V655.6H433V655.1H435.3V656.7H437.6V656H440V656.4H442.3V654.8H444.6V656H446.9V656.3H449.3V655.6H451.6V659.8H453.9V659.8H456.3V660.1H458.6V659.9H460.9V660H463.3V659.2H465.6V659.8H467.9V660.2H470.3V660.2H472.6V660.2H474.9V660.2H477.2V660.2H479.6V660.2H481.9V660.2H484.2V660.2H486.6V660.2H488.9V660.2 Z" fill="#f81212"/><path d="M32.1 660.2V660.2H34.4V660.2H36.8V660.2H39.1V660.2H41.4V660.2H43.8V660.2H46.1V660.2H48.4V660.2H50.7V660.2H53.1V660.2H55.4V660.2H57.7V660.2H60.1V660.2H62.4V660.2H64.7V660.2H67.1V660.2H69.4V660.2H71.7V660.2H74.1V660.2H76.4V660.2H78.7V660.2H81V660.2H83.4V660.2H85.7V660.2H88V660.2H90.4V660.2H92.7V660.2H95V660.2H97.4V660.2H99.7V660.2H102V660.2H104.3V660.2H106.7V660.2H109V660.2H111.3V660.2H113.7V660.2H116V660.2H118.3V660.2H120.7V660.2H123V660.2H125.3V660.2H127.7V660.2H130V660.2H132.3V660.2H134.6V660.2H137V660.2H139.3V660.2H141.6V660.2H144V659.6H146.3V659.6H148.6V659.1H151V656H153.3V656.9H155.6V656H158V655.6H160.3V656.4H162.6V656.8H164.9V655.9H167.3V656.3H169.6V660.2H171.9V660.2H174.3V660.2H176.6V660.2H178.9V660.2H181.3V660.2H183.6V660.2H185.9V660.2H188.3V660.2H190.6V660.2H192.9V660.2H195.2V660.2H197.6V660.2H199.9V660.2H202.2V660.2H204.6V660.2H206.9V660.2H209.2V660.2H211.6V660.2H213.9V660.2H216.2V660.2H218.5V660.2H220.9V660.2H223.2V660.2H225.5V660.2H227.9V660.2H230.2V660.2H232.5V660.2H234.9V660.2H237.2V660.2H239.5V660.2H241.9V660.2H244.2V660.2H246.5V660.2H248.8V660.2H251.2V658.9H253.5V659.1H255.8V658.5H258.2V658.5H260.5V658.5H262.8V659.5H265.2V659.1H267.5V658.5H269.8V659H272.2V659.6H274.5V659.7H276.8V659.6H279.1V659.4H281.5V659.5H283.8V658.9H286.1V657.8H288.5V657.8H290.8V658.7H293.1V658.3H295.5V657.7H297.8V658.5H300.1V657.9H302.5V657.6H304.8V657.8H307.1V657.9H309.4V658.6H311.8V658.3H314.1V654H316.4V655.4H318.8V655.2H321.1V654.5H323.4V653.9H325.8V655.5H328.1V653.8H330.4V654.6H332.7V655.1H335.1V654.3H337.4V655.5H339.7V654.2H342.1V655.4H344.4V653.8H346.7V655.4H349.1V655H351.4V654.7H353.7V654.3H356.1V654.3H358.4V656.9H360.7V657.3H363V656.5H365.4V657.8H367.7V657.4H370V657.4H372.4V657.6H374.7V656.8H377V656.6H379.4V657.5H381.7V656.7H384V656.9H386.4V649.6H388.7V648.6H391V646.5H393.3V646.5H395.7V644.9H398V645H400.3V646.3H402.7V639.7H405V635.6H407.3V636.1H409.7V635.7H412V636H414.3V636.1H416.7V635.7H419V635.7H421.3V636H423.6V636.6H426V655.8H428.3V655.7H430.6V655.8H433V655.5H435.3V656.8H437.6V656.6H440V656.9H442.3V655.6H444.6V656.9H446.9V657.1H449.3V657H451.6V659.8H453.9V659.8H456.3V660.1H458.6V659.9H460.9V660H463.3V659.2H465.6V659.8H467.9V660.2H470.3V660.2H472.6V660.2H474.9V660.2H477.2V660.2H479.6V660.2H481.9V660.2H484.2V660.2H486.6V660.2H488.9V660.2 Z" fill="#1fb23a"/><rect x="32.1" y="666.9" width="456.8" height="26" fill="#fec80a"/><path d="M32.1 692.9V666.9H34.4V666.9H36.8V666.9H39.1V666.9H41.4V666.9H43.8V666.9H46.1V666.9H48.4V666.9H50.7V666.9H53.1V666.9H55.4V666.9H57.7V666.9H60.1V666.9H62.4V666.9H64.7V666.9H67.1V666.9H69.4V666.9H71.7V666.9H74.1V666.9H76.4V666.9H78.7V666.9H81V666.9H83.4V666.9H85.7V666.9H88V666.9H90.4V666.9H92.7V666.9H95V666.9H97.4V666.9H99.7V666.9H102V666.9H104.3V666.9H106.7V666.9H109V666.9H111.3V666.9H113.7V666.9H116V666.9H118.3V666.9H120.7V666.9H123V666.9H125.3V666.9H127.7V666.9H130V666.9H132.3V666.9H134.6V666.9H137V666.9H139.3V666.9H141.6V666.9H144V675.3H146.3V677.9H148.6V677.2H151V676.6H153.3V676.2H155.6V678.5H158V677.8H160.3V675.5H162.6V675.9H164.9V676.8H167.3V675.3H169.6V690.6H171.9V689.4H174.3V692.1H176.6V692.5H178.9V692.3H181.3V692.7H183.6V692.5H185.9V692.8H188.3V692.6H190.6V692.7H192.9V675.7H195.2V676H197.6V677.4H199.9V674.9H202.2V675.6H204.6V675.4H206.9V676.5H209.2V681.7H211.6V681.2H213.9V682.1H216.2V682.7H218.5V680.5H220.9V681.4H223.2V682H225.5V681.6H227.9V681.6H230.2V682H232.5V666.9H234.9V666.9H237.2V666.9H239.5V666.9H241.9V666.9H244.2V666.9H246.5V666.9H248.8V666.9H251.2V680.5H253.5V679.7H255.8V678.8H258.2V680.4H260.5V680.3H262.8V679.8H265.2V681.5H267.5V680.5H269.8V674.1H272.2V672.6H274.5V673H276.8V672.7H279.1V673.6H281.5V673H283.8V672.7H286.1V679.8H288.5V678.6H290.8V681.3H293.1V679.5H295.5V680.2H297.8V680.4H300.1V678.6H302.5V680.7H304.8V678.9H307.1V680.2H309.4V678.3H311.8V680.3H314.1V682.2H316.4V682H318.8V682.4H321.1V680.2H323.4V681.9H325.8V681.8H328.1V680.6H330.4V680.8H332.7V680.1H335.1V680.7H337.4V677.9H339.7V678.4H342.1V679.3H344.4V677.4H346.7V677.1H349.1V675.8H351.4V678.6H353.7V677.5H356.1V679.2H358.4V678.6H360.7V678.1H363V677.2H365.4V678.8H367.7V679.5H370V676.6H372.4V676.6H374.7V677.8H377V677.8H379.4V677.2H381.7V678H384V677.7H386.4V669.2H388.7V666.9H391V667.8H393.3V670.6H395.7V669.6H398V669.8H400.3V668.9H402.7V666.9H405V666.9H407.3V666.9H409.7V666.9H412V666.9H414.3V666.9H416.7V666.9H419V666.9H421.3V666.9H423.6V666.9H426V671.5H428.3V672.8H430.6V672.5H433V671.8H435.3V671.3H437.6V671.6H440V671.5H442.3V670.5H444.6V669.3H446.9V669.7H449.3V668.5H451.6V668.1H453.9V667.9H456.3V668H458.6V667.8H460.9V668H463.3V668H465.6V667.6H467.9V666.9H470.3V666.9H472.6V666.9H474.9V666.9H477.2V666.9H479.6V666.9H481.9V666.9H484.2V666.9H486.6V666.9H488.9V692.9 Z" fill="#0c0cd0"/><path d="M32.1 692.9V692.9H34.4V692.9H36.8V692.9H39.1V692.9H41.4V692.9H43.8V692.9H46.1V692.9H48.4V692.9H50.7V692.9H53.1V692.9H55.4V692.9H57.7V692.9H60.1V692.9H62.4V692.9H64.7V692.9H67.1V692.9H69.4V692.9H71.7V692.9H74.1V692.9H76.4V692.9H78.7V692.9H81V692.9H83.4V692.9H85.7V692.9H88V692.9H90.4V692.9H92.7V692.9H95V692.9H97.4V692.9H99.7V692.9H102V692.9H104.3V692.9H106.7V692.9H109V692.9H111.3V692.9H113.7V692.9H116V692.9H118.3V692.9H120.7V692.9H123V692.9H125.3V692.9H127.7V692.9H130V692.9H132.3V692.9H134.6V692.9H137V692.9H139.3V692.9H141.6V692.9H144V688.4H146.3V689.1H148.6V689.3H151V687.9H153.3V689.8H155.6V689.8H158V689.3H160.3V688.7H162.6V688.6H164.9V688.9H167.3V688.2H169.6V691.9H171.9V691.3H174.3V692.1H176.6V692.5H178.9V692.3H181.3V692.7H183.6V692.5H185.9V692.8H188.3V692.6H190.6V692.7H192.9V691.4H195.2V691.4H197.6V690.6H199.9V690.9H202.2V690.3H204.6V690.6H206.9V691.2H209.2V688.4H211.6V688.1H213.9V688.2H216.2V688.7H218.5V688.4H220.9V688.5H223.2V688.4H225.5V688.8H227.9V688.4H230.2V688.6H232.5V666.9H234.9V666.9H237.2V666.9H239.5V666.9H241.9V666.9H244.2V666.9H246.5V666.9H248.8V666.9H251.2V687.6H253.5V687.2H255.8V687.3H258.2V688.6H260.5V688.6H262.8V687H265.2V688.1H267.5V688.3H269.8V682.9H272.2V682.5H274.5V682.5H276.8V681.2H279.1V682.6H281.5V682.2H283.8V682.4H286.1V686.6H288.5V685.4H290.8V686.9H293.1V686.2H295.5V686.7H297.8V687.3H300.1V685.1H302.5V686.5H304.8V685H307.1V686.5H309.4V685.1H311.8V686.7H314.1V682.6H316.4V682.3H318.8V682.9H321.1V680.5H323.4V682.1H325.8V682.1H328.1V680.8H330.4V681.1H332.7V680.5H335.1V681H337.4V678.5H339.7V679.1H342.1V679.4H344.4V678.3H346.7V677.9H349.1V676.8H351.4V678.7H353.7V678.2H356.1V679.6H358.4V678.9H360.7V679.2H363V678.2H365.4V680.1H367.7V680H370V677.5H372.4V677.9H374.7V678.3H377V678.9H379.4V678.1H381.7V679.3H384V678.2H386.4V669.2H388.7V666.9H391V667.8H393.3V670.6H395.7V669.6H398V669.8H400.3V668.9H402.7V666.9H405V671.4H407.3V671.1H409.7V668.1H412V668.6H414.3V668H416.7V668H419V668.2H421.3V668H423.6V668.3H426V671.5H428.3V672.8H430.6V672.5H433V671.8H435.3V671.3H437.6V671.6H440V671.5H442.3V670.5H444.6V669.3H446.9V669.7H449.3V668.5H451.6V668.1H453.9V667.9H456.3V668H458.6V667.8H460.9V668H463.3V668H465.6V667.6H467.9V666.9H470.3V666.9H472.6V666.9H474.9V666.9H477.2V666.9H479.6V666.9H481.9V666.9H484.2V666.9H486.6V666.9H488.9V692.9 Z" fill="#f81212"/><path d="M32.1 692.9V692.9H34.4V692.9H36.8V692.9H39.1V692.9H41.4V692.9H43.8V692.9H46.1V692.9H48.4V692.9H50.7V692.9H53.1V692.9H55.4V692.9H57.7V692.9H60.1V692.9H62.4V692.9H64.7V692.9H67.1V692.9H69.4V692.9H71.7V692.9H74.1V692.9H76.4V692.9H78.7V692.9H81V692.9H83.4V692.9H85.7V692.9H88V692.9H90.4V692.9H92.7V692.9H95V692.9H97.4V692.9H99.7V692.9H102V692.9H104.3V692.9H106.7V692.9H109V692.9H111.3V692.9H113.7V692.9H116V692.9H118.3V692.9H120.7V692.9H123V692.9H125.3V692.9H127.7V692.9H130V692.9H132.3V692.9H134.6V692.9H137V692.9H139.3V692.9H141.6V692.9H144V691.4H146.3V691.6H148.6V691.8H151V691.5H153.3V692.4H155.6V692.4H158V692.3H160.3V692H162.6V692H164.9V691.5H167.3V691.8H169.6V691.9H171.9V691.3H174.3V692.1H176.6V692.5H178.9V692.3H181.3V692.7H183.6V692.5H185.9V692.8H188.3V692.6H190.6V692.7H192.9V691.4H195.2V691.4H197.6V690.6H199.9V690.9H202.2V690.3H204.6V690.6H206.9V691.2H209.2V688.4H211.6V688.1H213.9V688.2H216.2V688.7H218.5V688.4H220.9V688.5H223.2V688.4H225.5V688.8H227.9V688.4H230.2V688.6H232.5V666.9H234.9V666.9H237.2V666.9H239.5V666.9H241.9V666.9H244.2V666.9H246.5V666.9H248.8V666.9H251.2V688.3H253.5V688.1H255.8V687.6H258.2V688.9H260.5V689.2H262.8V687.6H265.2V688.7H267.5V689.2H269.8V682.9H272.2V682.5H274.5V682.5H276.8V681.2H279.1V682.6H281.5V682.2H283.8V682.4H286.1V687.7H288.5V686.6H290.8V687.2H293.1V687.2H295.5V688.1H297.8V687.6H300.1V686.2H302.5V687.1H304.8V686.1H307.1V687.5H309.4V686.4H311.8V687.6H314.1V685.2H316.4V683.7H318.8V685.3H321.1V682.7H323.4V683.9H325.8V684.3H328.1V683.1H330.4V682.9H332.7V681.9H335.1V683.2H337.4V680.5H339.7V681.5H342.1V680.9H344.4V680.2H346.7V680.3H349.1V679H351.4V680.4H353.7V680.7H356.1V681H358.4V680.8H360.7V681.6H363V679.9H365.4V681.8H367.7V681.8H370V679.8H372.4V679.8H374.7V680.1H377V680.8H379.4V680.4H381.7V681.6H384V680.5H386.4V682.1H388.7V680.6H391V681H393.3V682.2H395.7V682.1H398V681.7H400.3V681.4H402.7V692.9H405V692.9H407.3V692.9H409.7V692.9H412V692.9H414.3V692.9H416.7V692.9H419V692.9H421.3V692.9H423.6V692.9H426V673.7H428.3V674.3H430.6V674.3H433V673.7H435.3V673.1H437.6V673H440V673.9H442.3V672.3H444.6V671.4H446.9V670.8H449.3V670.1H451.6V668.1H453.9V667.9H456.3V668H458.6V667.8H460.9V668H463.3V668H465.6V667.6H467.9V666.9H470.3V666.9H472.6V666.9H474.9V666.9H477.2V666.9H479.6V666.9H481.9V666.9H484.2V666.9H486.6V666.9H488.9V692.9 Z" fill="#f040f0"/><path d="M32.1 692.9V692.9H34.4V692.9H36.8V692.9H39.1V692.9H41.4V692.9H43.8V692.9H46.1V692.9H48.4V692.9H50.7V692.9H53.1V692.9H55.4V692.9H57.7V692.9H60.1V692.9H62.4V692.9H64.7V692.9H67.1V692.9H69.4V692.9H71.7V692.9H74.1V692.9H76.4V692.9H78.7V692.9H81V692.9H83.4V692.9H85.7V692.9H88V692.9H90.4V692.9H92.7V692.9H95V692.9H97.4V692.9H99.7V692.9H102V692.9H104.3V692.9H106.7V692.9H109V692.9H111.3V692.9H113.7V692.9H116V692.9H118.3V692.9H120.7V692.9H123V692.9H125.3V692.9H127.7V692.9H130V692.9H132.3V692.9H134.6V692.9H137V692.9H139.3V692.9H141.6V692.9H144V691.4H146.3V691.6H148.6V691.8H151V691.5H153.3V692.4H155.6V692.4H158V692.3H160.3V692H162.6V692H164.9V691.5H167.3V691.8H169.6V692.6H171.9V692.9H174.3V692.1H176.6V692.5H178.9V692.3H181.3V692.7H183.6V692.5H185.9V692.8H188.3V692.6H190.6V692.7H192.9V691.4H195.2V691.4H197.6V690.6H199.9V690.9H202.2V690.3H204.6V690.6H206.9V691.2H209.2V688.4H211.6V688.1H213.9V688.2H216.2V688.7H218.5V688.4H220.9V688.5H223.2V688.4H225.5V688.8H227.9V688.4H230.2V688.6H232.5V666.9H234.9V666.9H237.2V666.9H239.5V666.9H241.9V666.9H244.2V666.9H246.5V666.9H248.8V666.9H251.2V692.9H253.5V692.9H255.8V692.9H258.2V692.9H260.5V692.9H262.8V692.9H265.2V692.9H267.5V692.9H269.8V692.9H272.2V692.9H274.5V692.9H276.8V692.9H279.1V692.9H281.5V692.9H283.8V692.9H286.1V692.7H288.5V692.4H290.8V692.9H293.1V692.8H295.5V692.8H297.8V692.6H300.1V692.6H302.5V692.3H304.8V692.3H307.1V692.6H309.4V692.6H311.8V692.9H314.1V692.9H316.4V692.9H318.8V692.9H321.1V692.9H323.4V692.9H325.8V692.9H328.1V692.9H330.4V692.9H332.7V692.9H335.1V692.9H337.4V692.9H339.7V692.9H342.1V692.9H344.4V692.9H346.7V692.9H349.1V692.9H351.4V692.9H353.7V692.9H356.1V692.9H358.4V692.9H360.7V692.9H363V692.9H365.4V692.9H367.7V692.9H370V692.9H372.4V692.9H374.7V692.9H377V692.9H379.4V692.9H381.7V692.9H384V692.9H386.4V692.9H388.7V692.9H391V692.9H393.3V692.9H395.7V692.9H398V692.9H400.3V692.9H402.7V692.9H405V692.9H407.3V692.9H409.7V692.9H412V692.9H414.3V692.9H416.7V692.9H419V692.9H421.3V692.9H423.6V692.9H426V692.9H428.3V692.9H430.6V692.9H433V692.9H435.3V692.9H437.6V692.9H440V692.9H442.3V692.9H444.6V692.9H446.9V692.9H449.3V692.9H451.6V692.9H453.9V692.9H456.3V692.9H458.6V692.9H460.9V692.9H463.3V692.9H465.6V692.9H467.9V692.9H470.3V692.9H472.6V692.9H474.9V692.9H477.2V692.9H479.6V692.9H481.9V692.9H484.2V692.9H486.6V692.9H488.9V692.9 Z" fill="#1fb23a"/><rect x="32.1" y="699.4" width="456.8" height="26" fill="#fec80a"/><path d="M32.1 725.4V699.4H34.4V699.4H36.8V699.4H39.1V699.4H41.4V699.4H43.8V699.4H46.1V699.4H48.4V699.4H50.7V699.4H53.1V699.4H55.4V699.4H57.7V699.4H60.1V699.4H62.4V699.4H64.7V699.4H67.1V699.4H69.4V699.4H71.7V699.4H74.1V699.4H76.4V699.4H78.7V699.4H81V699.4H83.4V699.4H85.7V699.4H88V699.4H90.4V699.4H92.7V699.4H95V699.4H97.4V699.4H99.7V699.4H102V699.4H104.3V699.4H106.7V699.4H109V699.4H111.3V699.4H113.7V699.4H116V699.4H118.3V699.4H120.7V699.4H123V699.4H125.3V699.4H127.7V699.4H130V699.4H132.3V699.4H134.6V699.4H137V699.4H139.3V699.4H141.6V699.4H144V699.4H146.3V699.4H148.6V699.4H151V699.4H153.3V699.4H155.6V699.4H158V699.4H160.3V699.4H162.6V699.4H164.9V699.4H167.3V699.4H169.6V699.4H171.9V699.4H174.3V699.7H176.6V700.1H178.9V699.8H181.3V700H183.6V700H185.9V699.6H188.3V700.1H190.6V700H192.9V701.8H195.2V703.5H197.6V700.3H199.9V700.9H202.2V700.6H204.6V700.8H206.9V699.7H209.2V701.3H211.6V703.3H213.9V702.4H216.2V703.9H218.5V704.4H220.9V704.6H223.2V702.9H225.5V702.1H227.9V703.9H230.2V701.6H232.5V725.4H234.9V725.4H237.2V725.4H239.5V725.4H241.9V725.4H244.2V725.4H246.5V725.4H248.8V725.4H251.2V699.4H253.5V699.4H255.8V699.4H258.2V699.4H260.5V699.4H262.8V699.4H265.2V699.4H267.5V699.4H269.8V699.4H272.2V699.4H274.5V699.4H276.8V699.4H279.1V699.4H281.5V699.4H283.8V699.4H286.1V699.4H288.5V699.4H290.8V699.4H293.1V699.4H295.5V699.4H297.8V699.4H300.1V699.4H302.5V699.4H304.8V699.4H307.1V699.4H309.4V699.4H311.8V699.4H314.1V699.4H316.4V699.4H318.8V699.4H321.1V699.4H323.4V699.4H325.8V699.4H328.1V699.4H330.4V699.4H332.7V699.4H335.1V699.4H337.4V699.4H339.7V699.4H342.1V699.4H344.4V699.4H346.7V699.4H349.1V699.4H351.4V699.4H353.7V699.4H356.1V699.4H358.4V699.4H360.7V699.4H363V699.4H365.4V699.4H367.7V699.4H370V699.4H372.4V699.4H374.7V699.4H377V699.4H379.4V699.4H381.7V699.4H384V699.4H386.4V699.4H388.7V699.4H391V699.4H393.3V699.4H395.7V699.4H398V699.4H400.3V699.4H402.7V699.4H405V699.4H407.3V699.4H409.7V699.4H412V699.4H414.3V699.4H416.7V699.4H419V699.4H421.3V699.4H423.6V699.4H426V699.4H428.3V699.4H430.6V699.4H433V699.4H435.3V699.4H437.6V699.4H440V699.4H442.3V699.4H444.6V699.4H446.9V699.4H449.3V699.4H451.6V699.4H453.9V699.4H456.3V699.4H458.6V699.4H460.9V699.4H463.3V699.4H465.6V699.4H467.9V699.4H470.3V699.4H472.6V699.4H474.9V699.4H477.2V699.4H479.6V699.4H481.9V699.4H484.2V699.4H486.6V699.4H488.9V725.4 Z" fill="#0c0cd0"/><path d="M32.1 725.4V699.4H34.4V699.4H36.8V699.4H39.1V699.4H41.4V699.4H43.8V699.4H46.1V699.4H48.4V699.4H50.7V699.4H53.1V699.4H55.4V699.4H57.7V699.4H60.1V699.4H62.4V699.4H64.7V699.4H67.1V699.4H69.4V699.4H71.7V699.4H74.1V699.4H76.4V699.4H78.7V699.4H81V699.4H83.4V699.4H85.7V699.4H88V699.4H90.4V699.4H92.7V699.4H95V699.4H97.4V699.4H99.7V699.4H102V699.4H104.3V699.4H106.7V699.4H109V699.4H111.3V699.4H113.7V699.4H116V699.4H118.3V699.4H120.7V699.4H123V699.4H125.3V699.4H127.7V699.4H130V699.4H132.3V699.4H134.6V699.4H137V699.4H139.3V699.4H141.6V699.4H144V702.5H146.3V702.8H148.6V702H151V702.1H153.3V702.1H155.6V702.3H158V702.1H160.3V702.8H162.6V702.9H164.9V702.9H167.3V702.4H169.6V699.4H171.9V701.8H174.3V699.7H176.6V700.1H178.9V699.8H181.3V700H183.6V700H185.9V699.6H188.3V700.1H190.6V700H192.9V701.8H195.2V703.5H197.6V700.3H199.9V700.9H202.2V700.6H204.6V700.8H206.9V699.7H209.2V701.3H211.6V703.3H213.9V702.4H216.2V703.9H218.5V704.4H220.9V704.6H223.2V702.9H225.5V702.1H227.9V703.9H230.2V701.6H232.5V725.4H234.9V725.4H237.2V725.4H239.5V725.4H241.9V725.4H244.2V725.4H246.5V725.4H248.8V725.4H251.2V715.4H253.5V715.8H255.8V716.8H258.2V716.6H260.5V716.7H262.8V717.1H265.2V716.9H267.5V717.2H269.8V702.1H272.2V702.4H274.5V702.2H276.8V702.9H279.1V701.8H281.5V702.2H283.8V701.9H286.1V717.1H288.5V718.8H290.8V717.9H293.1V718.1H295.5V717.6H297.8V716.9H300.1V718.4H302.5V718.3H304.8V717.2H307.1V717.8H309.4V718.6H311.8V717.3H314.1V716.1H316.4V715.1H318.8V715.8H321.1V715.7H323.4V714.9H325.8V714.1H328.1V715.4H330.4V715.2H332.7V715.1H335.1V714.7H337.4V715.4H339.7V714.7H342.1V715.2H344.4V715H346.7V715H349.1V716.8H351.4V715.3H353.7V715.1H356.1V715.3H358.4V711.6H360.7V712.9H363V713.1H365.4V712.9H367.7V712.7H370V712.2H372.4V712.3H374.7V711.2H377V712H379.4V711.9H381.7V712.6H384V712.2H386.4V703.2H388.7V704.1H391V703.2H393.3V702.9H395.7V703.2H398V703.1H400.3V703.7H402.7V699.4H405V699.4H407.3V699.4H409.7V699.4H412V699.4H414.3V699.4H416.7V699.4H419V699.4H421.3V699.4H423.6V699.4H426V706.5H428.3V706H430.6V706.2H433V705.8H435.3V706H437.6V707H440V706.5H442.3V706H444.6V702.8H446.9V702.1H449.3V701.7H451.6V699.4H453.9V699.4H456.3V699.4H458.6V699.4H460.9V699.4H463.3V699.4H465.6V699.4H467.9V699.4H470.3V699.4H472.6V699.4H474.9V699.4H477.2V699.4H479.6V699.4H481.9V699.4H484.2V699.4H486.6V699.4H488.9V725.4 Z" fill="#f81212"/><path d="M32.1 725.4V725.4H34.4V725.4H36.8V725.4H39.1V725.4H41.4V725.4H43.8V725.4H46.1V725.4H48.4V725.4H50.7V725.4H53.1V725.4H55.4V725.4H57.7V725.4H60.1V725.4H62.4V725.4H64.7V725.4H67.1V725.4H69.4V725.4H71.7V725.4H74.1V725.4H76.4V725.4H78.7V725.4H81V725.4H83.4V725.4H85.7V725.4H88V725.4H90.4V725.4H92.7V725.4H95V725.4H97.4V725.4H99.7V725.4H102V725.4H104.3V725.4H106.7V725.4H109V725.4H111.3V725.4H113.7V725.4H116V725.4H118.3V725.4H120.7V725.4H123V725.4H125.3V725.4H127.7V725.4H130V725.4H132.3V725.4H134.6V725.4H137V725.4H139.3V725.4H141.6V725.4H144V718.5H146.3V719.3H148.6V717.9H151V715.3H153.3V714.9H155.6V715.6H158V714.9H160.3V715.9H162.6V715.3H164.9V715H167.3V716.3H169.6V699.4H171.9V706.4H174.3V699.7H176.6V700.1H178.9V699.8H181.3V700H183.6V700H185.9V699.6H188.3V700.1H190.6V700H192.9V715.8H195.2V715.1H197.6V714.1H199.9V714H202.2V714.3H204.6V714.9H206.9V713.8H209.2V711.1H211.6V712.3H213.9V711.6H216.2V713.9H218.5V713.4H220.9V712.6H223.2V712.1H225.5V711.4H227.9V713H230.2V710.9H232.5V725.4H234.9V725.4H237.2V725.4H239.5V725.4H241.9V725.4H244.2V725.4H246.5V725.4H248.8V725.4H251.2V725.4H253.5V725.4H255.8V725.4H258.2V725.4H260.5V725.4H262.8V725.4H265.2V725.4H267.5V725.4H269.8V715.1H272.2V716.5H274.5V716H276.8V715.9H279.1V715.9H281.5V715.7H283.8V715.4H286.1V724.5H288.5V724.7H290.8V724.6H293.1V724.9H295.5V724.1H297.8V724.1H300.1V724.8H302.5V724.5H304.8V724.3H307.1V724.7H309.4V724.3H311.8V724.6H314.1V717.9H316.4V716.2H318.8V716.8H321.1V717.4H323.4V716.2H325.8V715.7H328.1V716.7H330.4V717H332.7V716.1H335.1V716.1H337.4V716.4H339.7V716.6H342.1V716.9H344.4V716.8H346.7V716.1H349.1V718.3H351.4V716.9H353.7V717.1H356.1V716.4H358.4V711.6H360.7V712.9H363V713.1H365.4V712.9H367.7V712.7H370V712.2H372.4V712.3H374.7V711.2H377V712H379.4V711.9H381.7V712.6H384V712.2H386.4V703.2H388.7V704.1H391V703.2H393.3V702.9H395.7V703.2H398V703.1H400.3V703.7H402.7V703.6H405V703.1H407.3V703.8H409.7V703.1H412V703.2H414.3V703.7H416.7V702.8H419V704H421.3V702.9H423.6V703.8H426V706.5H428.3V706H430.6V706.2H433V705.8H435.3V706H437.6V707H440V706.5H442.3V706H444.6V702.8H446.9V702.1H449.3V701.7H451.6V699.4H453.9V699.4H456.3V699.4H458.6V699.4H460.9V699.4H463.3V699.4H465.6V699.4H467.9V699.4H470.3V699.4H472.6V699.4H474.9V699.4H477.2V699.4H479.6V699.4H481.9V699.4H484.2V699.4H486.6V699.4H488.9V725.4 Z" fill="#1fb23a"/><path d="M32.1 725.4V725.4H34.4V725.4H36.8V725.4H39.1V725.4H41.4V725.4H43.8V725.4H46.1V725.4H48.4V725.4H50.7V725.4H53.1V725.4H55.4V725.4H57.7V725.4H60.1V725.4H62.4V725.4H64.7V725.4H67.1V725.4H69.4V725.4H71.7V725.4H74.1V725.4H76.4V725.4H78.7V725.4H81V725.4H83.4V725.4H85.7V725.4H88V725.4H90.4V725.4H92.7V725.4H95V725.4H97.4V725.4H99.7V725.4H102V725.4H104.3V725.4H106.7V725.4H109V725.4H111.3V725.4H113.7V725.4H116V725.4H118.3V725.4H120.7V725.4H123V725.4H125.3V725.4H127.7V725.4H130V725.4H132.3V725.4H134.6V725.4H137V725.4H139.3V725.4H141.6V725.4H144V718.5H146.3V719.3H148.6V717.9H151V715.3H153.3V714.9H155.6V715.6H158V714.9H160.3V715.9H162.6V715.3H164.9V715H167.3V716.3H169.6V699.4H171.9V707.8H174.3V699.7H176.6V700.1H178.9V699.8H181.3V700H183.6V700H185.9V699.6H188.3V700.1H190.6V700H192.9V715.8H195.2V715.1H197.6V714.1H199.9V714H202.2V714.3H204.6V714.9H206.9V713.8H209.2V711.1H211.6V712.3H213.9V711.6H216.2V713.9H218.5V713.4H220.9V712.6H223.2V712.1H225.5V711.4H227.9V713H230.2V710.9H232.5V725.4H234.9V725.4H237.2V725.4H239.5V725.4H241.9V725.4H244.2V725.4H246.5V725.4H248.8V725.4H251.2V725.4H253.5V725.4H255.8V725.4H258.2V725.4H260.5V725.4H262.8V725.4H265.2V725.4H267.5V725.4H269.8V722.1H272.2V722H274.5V722.2H276.8V722H279.1V721.8H281.5V722.3H283.8V722.5H286.1V725.4H288.5V725.4H290.8V725.4H293.1V725.4H295.5V725.4H297.8V725.4H300.1V725.4H302.5V725.4H304.8V725.4H307.1V725.4H309.4V725.4H311.8V725.4H314.1V723.3H316.4V722.5H318.8V723.6H321.1V723.4H323.4V723.4H325.8V722.6H328.1V723H330.4V722.8H332.7V722.9H335.1V722.8H337.4V722.4H339.7V723.1H342.1V723.3H344.4V723.2H346.7V722.7H349.1V723.5H351.4V723H353.7V723.2H356.1V722.5H358.4V720.7H360.7V719.8H363V720.7H365.4V720.6H367.7V720.1H370V720.1H372.4V720.3H374.7V720.2H377V720.8H379.4V719.5H381.7V720.2H384V720.5H386.4V714.4H388.7V715.2H391V714.4H393.3V713H395.7V714.4H398V714.2H400.3V715.4H402.7V703.6H405V703.1H407.3V703.8H409.7V703.1H412V703.2H414.3V703.7H416.7V702.8H419V704H421.3V702.9H423.6V703.8H426V723.9H428.3V723.4H430.6V723.6H433V723.7H435.3V723.7H437.6V723H440V723.2H442.3V723.4H444.6V724.3H446.9V724.7H449.3V724H451.6V725.4H453.9V725.4H456.3V725.4H458.6V725.4H460.9V725.4H463.3V725.4H465.6V725.4H467.9V725.4H470.3V725.4H472.6V725.4H474.9V725.4H477.2V725.4H479.6V725.4H481.9V725.4H484.2V725.4H486.6V725.4H488.9V725.4 Z" fill="#f040f0"/><path d="M32.1 725.4V725.4H34.4V725.4H36.8V725.4H39.1V725.4H41.4V725.4H43.8V725.4H46.1V725.4H48.4V725.4H50.7V725.4H53.1V725.4H55.4V725.4H57.7V725.4H60.1V725.4H62.4V725.4H64.7V725.4H67.1V725.4H69.4V725.4H71.7V725.4H74.1V725.4H76.4V725.4H78.7V725.4H81V725.4H83.4V725.4H85.7V725.4H88V725.4H90.4V725.4H92.7V725.4H95V725.4H97.4V725.4H99.7V725.4H102V725.4H104.3V725.4H106.7V725.4H109V725.4H111.3V725.4H113.7V725.4H116V725.4H118.3V725.4H120.7V725.4H123V725.4H125.3V725.4H127.7V725.4H130V725.4H132.3V725.4H134.6V725.4H137V725.4H139.3V725.4H141.6V725.4H144V718.5H146.3V719.3H148.6V717.9H151V717.7H153.3V718.3H155.6V718.8H158V718.1H160.3V718.3H162.6V717.9H164.9V718.7H167.3V719.5H169.6V699.4H171.9V707.8H174.3V699.7H176.6V700.1H178.9V699.8H181.3V700H183.6V700H185.9V699.6H188.3V700.1H190.6V700H192.9V715.8H195.2V715.1H197.6V714.1H199.9V714H202.2V714.3H204.6V714.9H206.9V713.8H209.2V711.1H211.6V712.3H213.9V711.6H216.2V713.9H218.5V713.4H220.9V712.6H223.2V712.1H225.5V711.4H227.9V713H230.2V710.9H232.5V725.4H234.9V725.4H237.2V725.4H239.5V725.4H241.9V725.4H244.2V725.4H246.5V725.4H248.8V725.4H251.2V725.4H253.5V725.4H255.8V725.4H258.2V725.4H260.5V725.4H262.8V725.4H265.2V725.4H267.5V725.4H269.8V722.1H272.2V722H274.5V722.2H276.8V722H279.1V721.8H281.5V722.3H283.8V722.5H286.1V725.4H288.5V725.4H290.8V725.4H293.1V725.4H295.5V725.4H297.8V725.4H300.1V725.4H302.5V725.4H304.8V725.4H307.1V725.4H309.4V725.4H311.8V725.4H314.1V725.4H316.4V725.4H318.8V725.4H321.1V725.4H323.4V725.4H325.8V725.4H328.1V725.4H330.4V725.4H332.7V725.4H335.1V725.4H337.4V725.4H339.7V725.4H342.1V725.4H344.4V725.4H346.7V725.4H349.1V725.4H351.4V725.4H353.7V725.4H356.1V725.4H358.4V723.1H360.7V723.2H363V723H365.4V723.4H367.7V723.4H370V723.1H372.4V723.4H374.7V723.3H377V723.3H379.4V722.7H381.7V722.8H384V723.4H386.4V725.4H388.7V725.4H391V725.4H393.3V725.4H395.7V725.4H398V725.4H400.3V725.4H402.7V725.4H405V725.4H407.3V725.4H409.7V725.4H412V725.4H414.3V725.4H416.7V725.4H419V725.4H421.3V725.4H423.6V725.4H426V725.4H428.3V725.4H430.6V725.4H433V725.4H435.3V725.4H437.6V725.4H440V725.4H442.3V725.4H444.6V725.4H446.9V725.4H449.3V725.4H451.6V725.4H453.9V725.4H456.3V725.4H458.6V725.4H460.9V725.4H463.3V725.4H465.6V725.4H467.9V725.4H470.3V725.4H472.6V725.4H474.9V725.4H477.2V725.4H479.6V725.4H481.9V725.4H484.2V725.4H486.6V725.4H488.9V725.4 Z" fill="#f7aa94"/></g>
<defs><pattern id="sep" x="32.1" y="0" width="2.3306" height="10" patternUnits="userSpaceOnUse"><rect x="0" y="0" width="0.45" height="10" fill="#fff" opacity="0.3"/></pattern></defs>
<rect x="32.1" y="569.1" width="456.8" height="26" fill="url(#sep)"/>
<rect x="32.1" y="601.6" width="456.8" height="26" fill="url(#sep)"/>
<rect x="32.1" y="634.2" width="456.8" height="26" fill="url(#sep)"/>
<rect x="32.1" y="666.9" width="456.8" height="26" fill="url(#sep)"/>
<rect x="32.1" y="699.4" width="456.8" height="26" fill="url(#sep)"/>
<rect x="489.4" y="568.2" width="11.5" height="27.8" fill="#d9d9d9"/><text transform="translate(494.9 582.1) rotate(90)" text-anchor="middle" class="ks">k=2</text><rect x="489.4" y="600.7" width="11.5" height="27.8" fill="#d9d9d9"/><text transform="translate(494.9 614.6) rotate(90)" text-anchor="middle" class="ks">k=3</text><rect x="489.4" y="633.3" width="11.5" height="27.8" fill="#d9d9d9"/><text transform="translate(494.9 647.2) rotate(90)" text-anchor="middle" class="ks">k=4</text><rect x="489.4" y="666" width="11.5" height="27.8" fill="#d9d9d9"/><text transform="translate(494.9 679.9) rotate(90)" text-anchor="middle" class="ks">k=5</text><rect x="489.4" y="698.5" width="11.5" height="27.8" fill="#d9d9d9"/><text transform="translate(494.9 712.4) rotate(90)" text-anchor="middle" class="ks">k=6</text>
<g shape-rendering="crispEdges"><rect x="32.1" y="726.7" width="23.9" height="16.2" fill="#6a5aa6"/><rect x="56" y="726.7" width="23.2" height="16.2" fill="#c0145a"/><rect x="79.2" y="726.7" width="23.4" height="16.2" fill="#d9432f"/><rect x="102.6" y="726.7" width="21.6" height="16.2" fill="#1f78c8"/><rect x="124.2" y="726.7" width="19.1" height="16.2" fill="#f7891f"/><rect x="143.3" y="726.7" width="26" height="16.2" fill="#148a4a"/><rect x="169.3" y="726.7" width="23.6" height="16.2" fill="#f0559b"/><rect x="192.9" y="726.7" width="16.3" height="16.2" fill="#123f8f"/><rect x="209.2" y="726.7" width="24.4" height="16.2" fill="#19b03a"/><rect x="233.6" y="726.7" width="18.4" height="16.2" fill="#1a9ac0"/><rect x="252" y="726.7" width="16.9" height="16.2" fill="#a35aae"/><rect x="268.9" y="726.7" width="4.3" height="16.2" fill="#3a95a8"/><rect x="273.2" y="726.7" width="11.8" height="16.2" fill="#f7a684"/><rect x="285" y="726.7" width="28.4" height="16.2" fill="#a35aae"/><rect x="313.4" y="726.7" width="45.3" height="16.2" fill="#f0666f"/><rect x="358.7" y="726.7" width="4.3" height="16.2" fill="#3a95a8"/><rect x="363" y="726.7" width="23.7" height="16.2" fill="#c8102e"/><rect x="386.7" y="726.7" width="14.9" height="16.2" fill="#a8acac"/><rect x="401.6" y="726.7" width="23.4" height="16.2" fill="#1f4a52"/><rect x="425" y="726.7" width="18.6" height="16.2" fill="#f58a35"/><rect x="443.6" y="726.7" width="7.1" height="16.2" fill="#1aa0e0"/><rect x="450.7" y="726.7" width="16.6" height="16.2" fill="#cd3e3e"/><rect x="467.3" y="726.7" width="21.6" height="16.2" fill="#55b092"/><rect x="150.2" y="726.7" width="1.5" height="16.2" fill="#7ab0c8"/></g>
<g class="gl"><text x="42.8" y="755.6" text-anchor="middle">AG</text><text x="65.7" y="755.6" text-anchor="middle">HL</text><text x="89.9" y="755.6" text-anchor="middle">ZX</text><text x="114.6" y="755.6" text-anchor="middle">LM</text><text x="132.4" y="755.6" text-anchor="middle">XM</text><text x="155" y="755.6" text-anchor="middle">MG</text><text x="176.9" y="755.6" text-anchor="middle">XZ</text><text x="201" y="755.6" text-anchor="middle">YB</text><text x="219.4" y="755.6" text-anchor="middle">HN</text><text x="242.5" y="755.6" text-anchor="middle">RB</text><text x="261.6" y="755.6" text-anchor="middle">QC</text><text x="280.4" y="755.6" text-anchor="middle">LX</text><text x="302.7" y="755.6" text-anchor="middle">QC</text><text x="335.8" y="755.6" text-anchor="middle">YangBa</text><text x="361.3" y="755.6" text-anchor="middle">NY</text><text x="375.8" y="755.6" text-anchor="middle">BS</text><text x="393.6" y="755.6" text-anchor="middle">DZ</text><text x="410.5" y="755.6" text-anchor="middle">BH</text><text x="434" y="755.6" text-anchor="middle">WS</text><text x="447" y="755.6" text-anchor="middle">JJ</text><text x="460.9" y="755.6" text-anchor="middle">WN</text><text x="477.5" y="755.6" text-anchor="middle">LQ</text></g>
</svg>
</body></html>
